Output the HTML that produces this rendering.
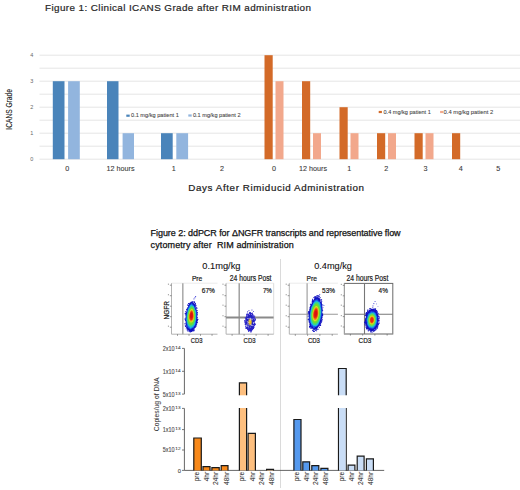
<!DOCTYPE html>
<html><head><meta charset="utf-8"><style>
html,body{margin:0;padding:0;background:#fff;overflow:hidden;}
svg{display:block;font-family:"Liberation Sans", sans-serif;}
</style></head><body>
<svg width="520" height="490" viewBox="0 0 520 490">
<rect width="520" height="490" fill="#fff"/>
<text x="45" y="10.8" font-size="9.9" fill="#262626" text-anchor="start" textLength="266" lengthAdjust="spacing" stroke="#262626" stroke-width="0.2">Figure 1: Clinical ICANS Grade after RIM administration</text>
<line x1="39.5" y1="159.2" x2="520" y2="159.2" stroke="#e5e5e5" stroke-width="1" />
<line x1="39.5" y1="146.2" x2="520" y2="146.2" stroke="#e5e5e5" stroke-width="1" />
<line x1="39.5" y1="133.2" x2="520" y2="133.2" stroke="#e5e5e5" stroke-width="1" />
<line x1="39.5" y1="120.19999999999999" x2="520" y2="120.19999999999999" stroke="#e5e5e5" stroke-width="1" />
<line x1="39.5" y1="107.19999999999999" x2="520" y2="107.19999999999999" stroke="#e5e5e5" stroke-width="1" />
<line x1="39.5" y1="94.19999999999999" x2="520" y2="94.19999999999999" stroke="#e5e5e5" stroke-width="1" />
<line x1="39.5" y1="81.19999999999999" x2="520" y2="81.19999999999999" stroke="#e5e5e5" stroke-width="1" />
<line x1="39.5" y1="68.19999999999999" x2="520" y2="68.19999999999999" stroke="#e5e5e5" stroke-width="1" />
<line x1="39.5" y1="55.19999999999999" x2="520" y2="55.19999999999999" stroke="#e5e5e5" stroke-width="1" />
<text x="31.8" y="161.2" font-size="5.5" fill="#666" text-anchor="middle" >0</text>
<text x="31.8" y="135.2" font-size="5.5" fill="#666" text-anchor="middle" >1</text>
<text x="31.8" y="109.19999999999999" font-size="5.5" fill="#666" text-anchor="middle" >2</text>
<text x="31.8" y="83.19999999999999" font-size="5.5" fill="#666" text-anchor="middle" >3</text>
<text x="31.8" y="57.19999999999999" font-size="5.5" fill="#666" text-anchor="middle" >4</text>
<text x="12.3" y="109.4" font-size="8.3" fill="#222" text-anchor="middle" textLength="40.6" lengthAdjust="spacingAndGlyphs" transform="rotate(-90 12.3 109.4)" stroke="#222" stroke-width="0.12">ICANS Grade</text>
<rect x="52.80" y="81.20" width="11.70" height="78.00" fill="#4a84ba" />
<rect x="68.10" y="81.20" width="11.70" height="78.00" fill="#92b5de" />
<rect x="107.00" y="81.20" width="11.50" height="78.00" fill="#4a84ba" />
<rect x="122.60" y="133.20" width="11.40" height="26.00" fill="#92b5de" />
<rect x="161.00" y="133.20" width="11.70" height="26.00" fill="#4a84ba" />
<rect x="176.30" y="133.20" width="11.80" height="26.00" fill="#92b5de" />
<rect x="264.50" y="55.20" width="8.20" height="104.00" fill="#d36a28" />
<rect x="275.50" y="81.20" width="8.00" height="78.00" fill="#f2a88c" />
<rect x="302.00" y="81.20" width="8.20" height="78.00" fill="#d36a28" />
<rect x="313.00" y="133.20" width="8.00" height="26.00" fill="#f2a88c" />
<rect x="339.50" y="107.20" width="8.20" height="52.00" fill="#d36a28" />
<rect x="350.50" y="133.20" width="8.00" height="26.00" fill="#f2a88c" />
<rect x="377.00" y="133.20" width="8.20" height="26.00" fill="#d36a28" />
<rect x="388.00" y="133.20" width="8.00" height="26.00" fill="#f2a88c" />
<rect x="414.50" y="133.20" width="8.20" height="26.00" fill="#d36a28" />
<rect x="425.50" y="133.20" width="8.00" height="26.00" fill="#f2a88c" />
<rect x="452.00" y="133.20" width="8.20" height="26.00" fill="#d36a28" />
<text x="67.3" y="171.1" font-size="7.2" fill="#3a3a3a" text-anchor="middle" stroke="#3a3a3a" stroke-width="0.1">0</text>
<text x="120.6" y="171.1" font-size="7.2" fill="#3a3a3a" text-anchor="middle" stroke="#3a3a3a" stroke-width="0.1">12 hours</text>
<text x="173.7" y="171.1" font-size="7.2" fill="#3a3a3a" text-anchor="middle" stroke="#3a3a3a" stroke-width="0.1">1</text>
<text x="222.1" y="171.1" font-size="7.2" fill="#3a3a3a" text-anchor="middle" stroke="#3a3a3a" stroke-width="0.1">2</text>
<text x="274" y="171.1" font-size="7.2" fill="#3a3a3a" text-anchor="middle" stroke="#3a3a3a" stroke-width="0.1">0</text>
<text x="313" y="171.1" font-size="7.2" fill="#3a3a3a" text-anchor="middle" stroke="#3a3a3a" stroke-width="0.1">12 hours</text>
<text x="349.2" y="171.1" font-size="7.2" fill="#3a3a3a" text-anchor="middle" stroke="#3a3a3a" stroke-width="0.1">1</text>
<text x="386.3" y="171.1" font-size="7.2" fill="#3a3a3a" text-anchor="middle" stroke="#3a3a3a" stroke-width="0.1">2</text>
<text x="425.4" y="171.1" font-size="7.2" fill="#3a3a3a" text-anchor="middle" stroke="#3a3a3a" stroke-width="0.1">3</text>
<text x="460.8" y="171.1" font-size="7.2" fill="#3a3a3a" text-anchor="middle" stroke="#3a3a3a" stroke-width="0.1">4</text>
<text x="498.2" y="171.1" font-size="7.2" fill="#3a3a3a" text-anchor="middle" stroke="#3a3a3a" stroke-width="0.1">5</text>
<rect x="126.30" y="114.60" width="3.40" height="2.20" fill="#4a84ba" />
<text x="131" y="117.3" font-size="5.7" fill="#444" text-anchor="start" textLength="47.8" lengthAdjust="spacingAndGlyphs" stroke="#444" stroke-width="0.08">0.1 mg/kg patient 1</text>
<rect x="188.30" y="114.40" width="3.40" height="2.20" fill="#92b5de" />
<text x="192.9" y="117.3" font-size="5.7" fill="#444" text-anchor="start" textLength="47.7" lengthAdjust="spacingAndGlyphs" stroke="#444" stroke-width="0.08">0.1 mg/kg patient 2</text>
<rect x="378.70" y="110.90" width="3.20" height="2.20" fill="#d36a28" />
<text x="383.5" y="113.6" font-size="5.7" fill="#444" text-anchor="start" textLength="47.3" lengthAdjust="spacingAndGlyphs" stroke="#444" stroke-width="0.08">0.4 mg/kg patient 1</text>
<rect x="440.10" y="110.90" width="3.00" height="2.20" fill="#f2a88c" />
<text x="443.5" y="113.6" font-size="5.7" fill="#444" text-anchor="start" textLength="49.8" lengthAdjust="spacingAndGlyphs" stroke="#444" stroke-width="0.08">0.4 mg/kg patient 2</text>
<text x="188.3" y="190.8" font-size="9.8" fill="#222" text-anchor="start" textLength="175.7" lengthAdjust="spacing" stroke="#222" stroke-width="0.22">Days After Rimiducid Administration</text>
<text x="150.6" y="235.6" font-size="9" fill="#111" text-anchor="start" textLength="250" lengthAdjust="spacing" stroke="#111" stroke-width="0.25">Figure 2: ddPCR for ΔNGFR transcripts and representative flow</text>
<text x="150.6" y="248.0" font-size="9" fill="#111" text-anchor="start" textLength="143.2" lengthAdjust="spacing" stroke="#111" stroke-width="0.25">cytometry after&#160; RIM administration</text>
<text x="202.3" y="268.8" font-size="9.7" fill="#111" text-anchor="start" textLength="38.2" lengthAdjust="spacingAndGlyphs" stroke="#111" stroke-width="0.1">0.1mg/kg</text>
<text x="314.2" y="268.8" font-size="9.7" fill="#111" text-anchor="start" textLength="37.8" lengthAdjust="spacingAndGlyphs" stroke="#111" stroke-width="0.1">0.4mg/kg</text>
<line x1="280.5" y1="259" x2="280.5" y2="488" stroke="#dadada" stroke-width="1" />
<line x1="171.5" y1="283.2" x2="217.5" y2="283.2" stroke="#e6e6e6" stroke-width="0.8" />
<line x1="171.5" y1="283.2" x2="171.5" y2="334.2" stroke="#aaa" stroke-width="0.9" />
<line x1="171.5" y1="334.2" x2="217.5" y2="334.2" stroke="#aaa" stroke-width="0.9" />
<line x1="169.9" y1="327.2" x2="171.5" y2="327.2" stroke="#666" stroke-width="0.7" />
<rect x="167.9" y="325.6" width="1" height="1.2" fill="#999"/>
<line x1="169.9" y1="316.7" x2="171.5" y2="316.7" stroke="#666" stroke-width="0.7" />
<rect x="167.9" y="315.1" width="1" height="1.2" fill="#999"/>
<line x1="169.9" y1="306.2" x2="171.5" y2="306.2" stroke="#666" stroke-width="0.7" />
<rect x="167.9" y="304.6" width="1" height="1.2" fill="#999"/>
<line x1="169.9" y1="295.7" x2="171.5" y2="295.7" stroke="#666" stroke-width="0.7" />
<rect x="167.9" y="294.1" width="1" height="1.2" fill="#999"/>
<line x1="169.9" y1="285.2" x2="171.5" y2="285.2" stroke="#666" stroke-width="0.7" />
<rect x="167.9" y="283.6" width="1" height="1.2" fill="#999"/>
<line x1="177.5" y1="334.2" x2="177.5" y2="335.8" stroke="#666" stroke-width="0.7" />
<line x1="189.0151515151515" y1="334.2" x2="189.0151515151515" y2="335.8" stroke="#666" stroke-width="0.7" />
<line x1="200.53030303030303" y1="334.2" x2="200.53030303030303" y2="335.8" stroke="#666" stroke-width="0.7" />
<line x1="212.04545454545456" y1="334.2" x2="212.04545454545456" y2="335.8" stroke="#666" stroke-width="0.7" />
<line x1="182.8" y1="283.2" x2="182.8" y2="334.2" stroke="#a8a8a8" stroke-width="1.5" />
<rect x="187.5" y="328.5" width="0.9" height="0.9" fill="#1010c0"/>
<rect x="188.6" y="305.0" width="0.9" height="0.9" fill="#1010c0"/>
<rect x="185.6" y="312.7" width="0.9" height="0.9" fill="#1010c0"/>
<rect x="196.5" y="321.9" width="0.9" height="0.9" fill="#1010c0"/>
<rect x="196.7" y="320.0" width="0.9" height="0.9" fill="#1010c0"/>
<rect x="195.9" y="322.3" width="0.9" height="0.9" fill="#1010c0"/>
<rect x="184.6" y="323.2" width="0.9" height="0.9" fill="#1010c0"/>
<rect x="194.8" y="326.4" width="0.9" height="0.9" fill="#1010c0"/>
<rect x="187.4" y="304.4" width="0.9" height="0.9" fill="#1010c0"/>
<rect x="186.4" y="309.2" width="0.9" height="0.9" fill="#1010c0"/>
<rect x="196.4" y="314.5" width="0.9" height="0.9" fill="#1010c0"/>
<rect x="194.8" y="305.3" width="0.9" height="0.9" fill="#1010c0"/>
<rect x="194.1" y="327.3" width="0.9" height="0.9" fill="#1010c0"/>
<rect x="187.6" y="330.9" width="0.9" height="0.9" fill="#1010c0"/>
<rect x="193.1" y="330.1" width="0.9" height="0.9" fill="#1010c0"/>
<rect x="188.1" y="305.0" width="0.9" height="0.9" fill="#1010c0"/>
<rect x="186.1" y="312.0" width="0.9" height="0.9" fill="#1010c0"/>
<rect x="196.2" y="321.7" width="0.9" height="0.9" fill="#1010c0"/>
<rect x="189.4" y="302.9" width="0.9" height="0.9" fill="#1010c0"/>
<rect x="187.6" y="330.0" width="0.9" height="0.9" fill="#1010c0"/>
<rect x="185.0" y="320.1" width="0.9" height="0.9" fill="#1010c0"/>
<rect x="193.2" y="301.5" width="0.9" height="0.9" fill="#1010c0"/>
<rect x="190.4" y="331.3" width="0.9" height="0.9" fill="#1010c0"/>
<rect x="184.8" y="313.4" width="0.9" height="0.9" fill="#1010c0"/>
<rect x="191.0" y="302.1" width="0.9" height="0.9" fill="#1010c0"/>
<rect x="196.5" y="314.8" width="0.9" height="0.9" fill="#1010c0"/>
<rect x="184.7" y="323.6" width="0.9" height="0.9" fill="#1010c0"/>
<rect x="194.1" y="328.6" width="0.9" height="0.9" fill="#1010c0"/>
<rect x="197.0" y="320.3" width="0.9" height="0.9" fill="#1010c0"/>
<rect x="192.2" y="301.3" width="0.9" height="0.9" fill="#1010c0"/>
<rect x="195.2" y="306.3" width="0.9" height="0.9" fill="#1010c0"/>
<rect x="189.9" y="301.9" width="0.9" height="0.9" fill="#1010c0"/>
<rect x="186.4" y="308.9" width="0.9" height="0.9" fill="#1010c0"/>
<rect x="194.8" y="302.8" width="0.9" height="0.9" fill="#1010c0"/>
<rect x="184.6" y="318.4" width="0.9" height="0.9" fill="#1010c0"/>
<rect x="196.7" y="322.3" width="0.9" height="0.9" fill="#1010c0"/>
<rect x="188.0" y="303.0" width="0.9" height="0.9" fill="#1010c0"/>
<rect x="193.9" y="303.6" width="0.9" height="0.9" fill="#1010c0"/>
<rect x="185.4" y="326.1" width="0.9" height="0.9" fill="#1010c0"/>
<rect x="196.8" y="318.7" width="0.9" height="0.9" fill="#1010c0"/>
<rect x="193.3" y="328.4" width="0.9" height="0.9" fill="#1010c0"/>
<rect x="196.8" y="322.2" width="0.9" height="0.9" fill="#1010c0"/>
<rect x="194.7" y="326.7" width="0.9" height="0.9" fill="#1010c0"/>
<rect x="185.0" y="326.1" width="0.9" height="0.9" fill="#1010c0"/>
<rect x="196.1" y="323.7" width="0.9" height="0.9" fill="#1010c0"/>
<rect x="185.3" y="311.1" width="0.9" height="0.9" fill="#1010c0"/>
<rect x="194.1" y="301.9" width="0.9" height="0.9" fill="#1010c0"/>
<rect x="189.0" y="330.6" width="0.9" height="0.9" fill="#1010c0"/>
<rect x="185.8" y="328.4" width="0.9" height="0.9" fill="#1010c0"/>
<rect x="196.4" y="312.9" width="0.9" height="0.9" fill="#1010c0"/>
<rect x="193.1" y="329.0" width="0.9" height="0.9" fill="#1010c0"/>
<rect x="190.9" y="331.0" width="0.9" height="0.9" fill="#1010c0"/>
<rect x="186.8" y="308.5" width="0.9" height="0.9" fill="#1010c0"/>
<rect x="196.9" y="316.9" width="0.9" height="0.9" fill="#1010c0"/>
<rect x="185.9" y="327.0" width="0.9" height="0.9" fill="#1010c0"/>
<rect x="196.9" y="312.1" width="0.9" height="0.9" fill="#1010c0"/>
<rect x="185.0" y="314.5" width="0.9" height="0.9" fill="#1010c0"/>
<rect x="189.4" y="304.0" width="0.9" height="0.9" fill="#1010c0"/>
<rect x="196.2" y="307.2" width="0.9" height="0.9" fill="#1010c0"/>
<rect x="195.6" y="305.3" width="0.9" height="0.9" fill="#1010c0"/>
<rect x="185.5" y="325.1" width="0.9" height="0.9" fill="#1010c0"/>
<rect x="195.7" y="325.8" width="0.9" height="0.9" fill="#1010c0"/>
<rect x="196.0" y="321.7" width="0.9" height="0.9" fill="#1010c0"/>
<rect x="191.9" y="329.8" width="0.9" height="0.9" fill="#1010c0"/>
<rect x="187.1" y="327.5" width="0.9" height="0.9" fill="#1010c0"/>
<rect x="196.5" y="316.6" width="0.9" height="0.9" fill="#1010c0"/>
<rect x="195.5" y="325.1" width="0.9" height="0.9" fill="#1010c0"/>
<rect x="197.3" y="319.1" width="0.9" height="0.9" fill="#1010c0"/>
<rect x="187.5" y="307.0" width="0.9" height="0.9" fill="#1010c0"/>
<rect x="190.1" y="330.7" width="0.9" height="0.9" fill="#1010c0"/>
<rect x="186.4" y="326.4" width="0.9" height="0.9" fill="#1010c0"/>
<rect x="195.1" y="303.2" width="0.9" height="0.9" fill="#1010c0"/>
<rect x="184.8" y="319.1" width="0.9" height="0.9" fill="#1010c0"/>
<rect x="195.6" y="323.6" width="0.9" height="0.9" fill="#1010c0"/>
<rect x="186.9" y="327.9" width="0.9" height="0.9" fill="#1010c0"/>
<rect x="194.0" y="304.2" width="0.9" height="0.9" fill="#1010c0"/>
<rect x="197.4" y="318.9" width="0.9" height="0.9" fill="#1010c0"/>
<rect x="185.7" y="313.5" width="0.9" height="0.9" fill="#1010c0"/>
<rect x="186.1" y="312.4" width="0.9" height="0.9" fill="#1010c0"/>
<rect x="184.8" y="313.1" width="0.9" height="0.9" fill="#1010c0"/>
<rect x="195.3" y="304.8" width="0.9" height="0.9" fill="#1010c0"/>
<rect x="189.7" y="330.7" width="0.9" height="0.9" fill="#1010c0"/>
<rect x="193.7" y="330.0" width="0.9" height="0.9" fill="#1010c0"/>
<rect x="185.1" y="312.7" width="0.9" height="0.9" fill="#1010c0"/>
<rect x="187.3" y="328.4" width="0.9" height="0.9" fill="#1010c0"/>
<rect x="193.9" y="301.3" width="0.9" height="0.9" fill="#1010c0"/>
<rect x="195.1" y="303.8" width="0.9" height="0.9" fill="#1010c0"/>
<rect x="194.0" y="302.2" width="0.9" height="0.9" fill="#1010c0"/>
<rect x="191.2" y="331.1" width="0.9" height="0.9" fill="#1010c0"/>
<rect x="186.7" y="326.7" width="0.9" height="0.9" fill="#1010c0"/>
<rect x="196.6" y="319.0" width="0.9" height="0.9" fill="#1010c0"/>
<rect x="189.7" y="331.6" width="0.9" height="0.9" fill="#1010c0"/>
<rect x="196.7" y="312.6" width="0.9" height="0.9" fill="#1010c0"/>
<rect x="197.1" y="310.3" width="0.9" height="0.9" fill="#1010c0"/>
<rect x="196.6" y="312.5" width="0.9" height="0.9" fill="#1010c0"/>
<rect x="191.4" y="330.1" width="0.9" height="0.9" fill="#1010c0"/>
<rect x="192.3" y="329.6" width="0.9" height="0.9" fill="#1010c0"/>
<rect x="187.3" y="304.8" width="0.9" height="0.9" fill="#1010c0"/>
<rect x="194.5" y="303.9" width="0.9" height="0.9" fill="#1010c0"/>
<rect x="188.3" y="303.2" width="0.9" height="0.9" fill="#1010c0"/>
<rect x="196.2" y="324.3" width="0.9" height="0.9" fill="#1010c0"/>
<rect x="196.4" y="308.1" width="0.9" height="0.9" fill="#1010c0"/>
<rect x="191.7" y="301.4" width="0.9" height="0.9" fill="#1010c0"/>
<rect x="193.3" y="330.6" width="0.9" height="0.9" fill="#1010c0"/>
<rect x="186.8" y="329.7" width="0.9" height="0.9" fill="#1010c0"/>
<rect x="196.8" y="314.0" width="0.9" height="0.9" fill="#1010c0"/>
<rect x="184.8" y="325.3" width="0.9" height="0.9" fill="#1010c0"/>
<rect x="190.9" y="302.5" width="0.9" height="0.9" fill="#1010c0"/>
<rect x="194.7" y="326.4" width="0.9" height="0.9" fill="#1010c0"/>
<rect x="196.3" y="307.6" width="0.9" height="0.9" fill="#1010c0"/>
<rect x="193.5" y="298.5" width="0.9" height="0.9" fill="#1a1ad0"/>
<rect x="194.5" y="297.3" width="0.9" height="0.9" fill="#1a1ad0"/>
<rect x="195.2" y="296.0" width="0.9" height="0.9" fill="#1a1ad0"/>
<path d="M197.04 317.00 L197.44 319.39 L197.30 321.79 L196.69 323.74 L195.97 325.38 L195.40 327.31 L194.44 328.16 L193.55 329.08 L192.78 331.46 L191.68 331.41 L190.63 331.33 L189.52 331.79 L188.67 330.35 L187.60 330.11 L186.81 328.75 L186.52 326.42 L186.01 324.76 L185.66 322.87 L185.54 320.77 L185.29 318.69 L185.68 316.40 L185.86 314.15 L186.47 312.12 L186.56 309.48 L187.49 308.05 L188.14 306.24 L188.87 304.62 L189.61 302.95 L190.52 302.88 L191.34 301.53 L192.16 302.12 L192.97 302.29 L193.75 302.88 L194.29 304.58 L195.12 305.15 L195.59 306.97 L195.99 308.86 L196.90 310.11 L196.81 312.64 L197.21 314.72 Z" fill="#1010c0"/>
<path d="M196.66 316.78 L196.49 318.77 L196.15 320.60 L195.92 322.53 L195.48 324.24 L194.98 325.99 L194.04 326.45 L193.40 328.02 L192.50 328.29 L191.63 328.74 L190.71 329.60 L189.85 329.00 L188.99 328.56 L188.13 328.02 L187.37 327.09 L187.03 325.21 L186.50 323.83 L186.28 322.01 L186.13 320.17 L186.02 318.26 L186.30 316.24 L186.52 314.25 L186.92 312.35 L187.17 310.20 L187.85 308.66 L188.42 306.95 L189.10 305.55 L189.96 305.42 L190.62 304.28 L191.35 303.27 L192.09 303.30 L192.70 304.56 L193.34 305.06 L194.05 305.39 L194.49 306.90 L195.07 307.98 L195.43 309.62 L196.11 310.86 L196.47 312.71 L196.71 314.70 Z" fill="#1a5ae8"/>
<path d="M195.86 316.62 L196.11 318.49 L195.89 320.26 L195.32 321.61 L195.25 323.69 L194.72 325.18 L193.83 325.54 L193.30 327.33 L192.42 327.29 L191.62 327.79 L190.76 328.58 L189.93 328.17 L189.31 326.81 L188.55 326.44 L187.90 325.56 L187.48 324.19 L187.17 322.70 L186.85 321.28 L186.50 319.79 L186.90 317.85 L186.72 316.14 L187.01 314.36 L187.56 312.82 L187.83 311.06 L188.21 309.33 L188.81 308.07 L189.52 307.43 L189.97 305.42 L190.68 304.98 L191.35 304.33 L191.98 305.41 L192.60 305.36 L193.15 306.10 L193.91 305.88 L194.28 307.45 L194.69 308.75 L195.22 309.86 L195.80 311.11 L196.02 312.92 L195.87 314.86 Z" fill="#18b8e8"/>
<path d="M195.50 316.48 L195.63 318.15 L195.38 319.69 L195.13 321.23 L194.62 322.38 L194.15 323.55 L193.68 324.88 L193.01 325.56 L192.30 325.93 L191.60 326.80 L190.85 326.70 L190.11 326.64 L189.49 325.79 L188.76 325.57 L188.35 324.28 L187.73 323.57 L187.47 322.14 L187.26 320.72 L187.09 319.26 L187.00 317.70 L187.28 316.05 L187.52 314.47 L187.73 312.86 L188.17 311.46 L188.64 310.16 L189.12 308.95 L189.67 308.00 L190.21 307.12 L190.78 306.47 L191.36 306.13 L191.95 305.75 L192.50 306.20 L193.06 306.48 L193.54 307.31 L194.03 308.08 L194.40 309.29 L194.81 310.43 L195.06 311.88 L195.45 313.22 L195.55 314.85 Z" fill="#40d880"/>
<path d="M194.93 316.30 L194.94 317.69 L194.89 319.13 L194.49 320.23 L194.29 321.61 L193.82 322.52 L193.34 323.43 L192.82 324.30 L192.19 324.58 L191.57 324.94 L190.93 325.11 L190.28 325.12 L189.74 324.43 L189.13 324.10 L188.67 323.28 L188.29 322.31 L188.03 321.15 L187.84 319.94 L187.81 318.61 L187.79 317.29 L187.90 315.93 L187.94 314.52 L188.30 313.24 L188.64 312.00 L189.03 310.88 L189.36 309.57 L189.84 308.66 L190.35 308.03 L190.87 307.72 L191.37 307.44 L191.86 307.33 L192.35 307.38 L192.80 307.88 L193.27 308.29 L193.65 309.12 L194.13 309.78 L194.46 310.88 L194.65 312.23 L194.78 313.58 L195.06 314.87 Z" fill="#70dc30"/>
<path d="M194.14 316.05 L194.11 317.11 L193.94 318.10 L193.82 319.13 L193.58 320.05 L193.27 320.86 L192.87 321.44 L192.47 322.09 L191.99 322.28 L191.53 322.60 L191.05 322.59 L190.57 322.61 L190.14 322.19 L189.74 321.76 L189.35 321.29 L189.06 320.56 L188.78 319.83 L188.63 318.88 L188.51 317.91 L188.53 316.84 L188.59 315.76 L188.71 314.66 L188.99 313.67 L189.25 312.71 L189.47 311.65 L189.89 311.07 L190.21 310.21 L190.59 309.69 L190.99 309.53 L191.37 308.98 L191.77 308.89 L192.14 309.11 L192.52 309.34 L192.87 309.74 L193.12 310.56 L193.45 311.15 L193.69 311.99 L193.95 312.86 L194.10 313.88 L194.19 314.96 Z" fill="#d8e020"/>
<path d="M193.71 315.91 L193.72 316.82 L193.60 317.68 L193.45 318.51 L193.19 319.18 L192.91 319.78 L192.61 320.36 L192.28 320.87 L191.90 321.11 L191.51 321.54 L191.10 321.49 L190.70 321.42 L190.32 321.19 L189.96 320.85 L189.68 320.30 L189.49 319.60 L189.20 319.08 L189.07 318.29 L189.04 317.42 L189.04 316.55 L189.08 315.66 L189.28 314.80 L189.36 313.89 L189.63 313.14 L189.89 312.44 L190.14 311.74 L190.41 311.06 L190.75 310.76 L191.05 310.27 L191.38 309.99 L191.70 310.10 L192.01 310.22 L192.31 310.42 L192.61 310.71 L192.88 311.18 L193.11 311.81 L193.32 312.51 L193.42 313.37 L193.55 314.17 L193.64 315.02 Z" fill="#f08a10"/>
<path d="M193.25 315.76 L193.18 316.46 L193.14 317.16 L192.96 317.74 L192.80 318.33 L192.62 318.89 L192.40 319.42 L192.11 319.79 L191.81 320.04 L191.48 320.09 L191.16 320.19 L190.85 320.10 L190.55 319.92 L190.30 319.55 L190.00 319.34 L189.86 318.73 L189.63 318.31 L189.53 317.68 L189.58 316.93 L189.53 316.27 L189.54 315.57 L189.62 314.84 L189.81 314.19 L189.99 313.56 L190.19 312.98 L190.36 312.32 L190.64 312.02 L190.87 311.58 L191.13 311.43 L191.38 311.18 L191.64 311.02 L191.88 311.31 L192.14 311.31 L192.35 311.67 L192.59 311.98 L192.77 312.49 L192.89 313.12 L193.09 313.65 L193.14 314.36 L193.16 315.07 Z" fill="#e82a10"/>
<path d="M192.54 315.56 L192.56 316.02 L192.51 316.46 L192.43 316.87 L192.31 317.23 L192.19 317.59 L192.03 317.87 L191.87 318.18 L191.65 318.21 L191.46 318.43 L191.24 318.48 L191.05 318.30 L190.83 318.32 L190.66 318.10 L190.50 317.88 L190.40 317.49 L190.30 317.15 L190.23 316.76 L190.15 316.37 L190.18 315.90 L190.23 315.44 L190.29 314.99 L190.38 314.56 L190.50 314.16 L190.62 313.78 L190.73 313.36 L190.90 313.14 L191.05 312.81 L191.23 312.75 L191.39 312.65 L191.55 312.58 L191.71 312.68 L191.86 312.76 L192.03 312.86 L192.17 313.12 L192.29 313.44 L192.38 313.82 L192.49 314.20 L192.56 314.63 L192.57 315.10 Z" fill="#d81010"/>
<text x="191.9" y="281.4" font-size="8" fill="#222" text-anchor="start" textLength="10.4" lengthAdjust="spacingAndGlyphs" stroke="#222" stroke-width="0.22">Pre</text>
<text x="201.8" y="293.3" font-size="7.7" fill="#222" text-anchor="start" textLength="13.1" lengthAdjust="spacingAndGlyphs" stroke="#222" stroke-width="0.22">67%</text>
<text x="190.8" y="343.0" font-size="8" fill="#222" text-anchor="start" textLength="11.7" lengthAdjust="spacingAndGlyphs" stroke="#222" stroke-width="0.22">CD3</text>
<text x="169.4" y="301.1" font-size="8" fill="#222" text-anchor="end" textLength="18.3" lengthAdjust="spacingAndGlyphs" transform="rotate(-90 169.4 301.1)" stroke="#222" stroke-width="0.22">NGFR</text>
<line x1="226.1" y1="283.2" x2="273.7" y2="283.2" stroke="#e6e6e6" stroke-width="0.8" />
<line x1="273.7" y1="283.2" x2="273.7" y2="334.2" stroke="#d8d8d8" stroke-width="0.9" />
<line x1="226.1" y1="283.2" x2="226.1" y2="334.2" stroke="#aaa" stroke-width="0.9" />
<line x1="226.1" y1="334.2" x2="273.7" y2="334.2" stroke="#aaa" stroke-width="0.9" />
<line x1="224.5" y1="327.2" x2="226.1" y2="327.2" stroke="#666" stroke-width="0.7" />
<rect x="222.5" y="325.6" width="1" height="1.2" fill="#999"/>
<line x1="224.5" y1="316.7" x2="226.1" y2="316.7" stroke="#666" stroke-width="0.7" />
<rect x="222.5" y="315.1" width="1" height="1.2" fill="#999"/>
<line x1="224.5" y1="306.2" x2="226.1" y2="306.2" stroke="#666" stroke-width="0.7" />
<rect x="222.5" y="304.6" width="1" height="1.2" fill="#999"/>
<line x1="224.5" y1="295.7" x2="226.1" y2="295.7" stroke="#666" stroke-width="0.7" />
<rect x="222.5" y="294.1" width="1" height="1.2" fill="#999"/>
<line x1="224.5" y1="285.2" x2="226.1" y2="285.2" stroke="#666" stroke-width="0.7" />
<rect x="222.5" y="283.6" width="1" height="1.2" fill="#999"/>
<line x1="232.1" y1="334.2" x2="232.1" y2="335.8" stroke="#666" stroke-width="0.7" />
<line x1="244.1" y1="334.2" x2="244.1" y2="335.8" stroke="#666" stroke-width="0.7" />
<line x1="256.09999999999997" y1="334.2" x2="256.09999999999997" y2="335.8" stroke="#666" stroke-width="0.7" />
<line x1="268.1" y1="334.2" x2="268.1" y2="335.8" stroke="#666" stroke-width="0.7" />
<line x1="239.2" y1="283.2" x2="239.2" y2="334.2" stroke="#999" stroke-width="1.4" />
<line x1="226.1" y1="317.6" x2="273.6" y2="317.6" stroke="#8a8a8a" stroke-width="2" />
<rect x="248.8" y="313.2" width="0.9" height="0.9" fill="#2a22c8"/>
<rect x="249.1" y="312.3" width="0.9" height="0.9" fill="#2a22c8"/>
<rect x="249.7" y="311.9" width="0.9" height="0.9" fill="#2a22c8"/>
<rect x="248.6" y="329.9" width="0.9" height="0.9" fill="#2a22c8"/>
<rect x="253.9" y="317.7" width="0.9" height="0.9" fill="#2a22c8"/>
<rect x="244.8" y="323.1" width="0.9" height="0.9" fill="#2a22c8"/>
<rect x="248.1" y="330.9" width="0.9" height="0.9" fill="#2a22c8"/>
<rect x="254.5" y="320.2" width="0.9" height="0.9" fill="#2a22c8"/>
<rect x="246.9" y="314.1" width="0.9" height="0.9" fill="#2a22c8"/>
<rect x="245.0" y="318.3" width="0.9" height="0.9" fill="#2a22c8"/>
<rect x="252.0" y="329.2" width="0.9" height="0.9" fill="#2a22c8"/>
<rect x="251.1" y="331.3" width="0.9" height="0.9" fill="#2a22c8"/>
<rect x="244.8" y="321.7" width="0.9" height="0.9" fill="#2a22c8"/>
<rect x="254.3" y="315.8" width="0.9" height="0.9" fill="#2a22c8"/>
<rect x="245.1" y="324.2" width="0.9" height="0.9" fill="#2a22c8"/>
<rect x="251.3" y="329.6" width="0.9" height="0.9" fill="#2a22c8"/>
<rect x="247.1" y="328.8" width="0.9" height="0.9" fill="#2a22c8"/>
<rect x="250.0" y="330.5" width="0.9" height="0.9" fill="#2a22c8"/>
<rect x="244.7" y="317.3" width="0.9" height="0.9" fill="#2a22c8"/>
<rect x="249.6" y="312.3" width="0.9" height="0.9" fill="#2a22c8"/>
<rect x="245.3" y="326.4" width="0.9" height="0.9" fill="#2a22c8"/>
<rect x="246.1" y="327.9" width="0.9" height="0.9" fill="#2a22c8"/>
<rect x="254.2" y="325.0" width="0.9" height="0.9" fill="#2a22c8"/>
<rect x="254.3" y="319.8" width="0.9" height="0.9" fill="#2a22c8"/>
<rect x="244.4" y="321.3" width="0.9" height="0.9" fill="#2a22c8"/>
<rect x="252.8" y="314.8" width="0.9" height="0.9" fill="#2a22c8"/>
<rect x="249.0" y="330.4" width="0.9" height="0.9" fill="#2a22c8"/>
<rect x="245.6" y="327.0" width="0.9" height="0.9" fill="#2a22c8"/>
<rect x="254.9" y="318.7" width="0.9" height="0.9" fill="#2a22c8"/>
<rect x="252.9" y="315.5" width="0.9" height="0.9" fill="#2a22c8"/>
<rect x="254.9" y="323.5" width="0.9" height="0.9" fill="#2a22c8"/>
<rect x="253.7" y="315.9" width="0.9" height="0.9" fill="#2a22c8"/>
<rect x="245.7" y="317.1" width="0.9" height="0.9" fill="#2a22c8"/>
<rect x="245.4" y="328.0" width="0.9" height="0.9" fill="#2a22c8"/>
<rect x="252.1" y="312.6" width="0.9" height="0.9" fill="#2a22c8"/>
<rect x="254.4" y="320.0" width="0.9" height="0.9" fill="#2a22c8"/>
<rect x="253.3" y="327.1" width="0.9" height="0.9" fill="#2a22c8"/>
<rect x="244.4" y="320.2" width="0.9" height="0.9" fill="#2a22c8"/>
<rect x="254.6" y="318.0" width="0.9" height="0.9" fill="#2a22c8"/>
<rect x="246.4" y="313.7" width="0.9" height="0.9" fill="#2a22c8"/>
<rect x="244.7" y="324.1" width="0.9" height="0.9" fill="#2a22c8"/>
<rect x="254.9" y="324.0" width="0.9" height="0.9" fill="#2a22c8"/>
<rect x="250.3" y="331.6" width="0.9" height="0.9" fill="#2a22c8"/>
<rect x="246.7" y="314.4" width="0.9" height="0.9" fill="#2a22c8"/>
<rect x="253.0" y="328.0" width="0.9" height="0.9" fill="#2a22c8"/>
<rect x="246.2" y="314.2" width="0.9" height="0.9" fill="#2a22c8"/>
<rect x="253.2" y="327.1" width="0.9" height="0.9" fill="#2a22c8"/>
<rect x="244.5" y="320.1" width="0.9" height="0.9" fill="#2a22c8"/>
<rect x="246.0" y="327.3" width="0.9" height="0.9" fill="#2a22c8"/>
<rect x="245.9" y="316.5" width="0.9" height="0.9" fill="#2a22c8"/>
<rect x="248.0" y="330.4" width="0.9" height="0.9" fill="#2a22c8"/>
<rect x="254.7" y="319.1" width="0.9" height="0.9" fill="#2a22c8"/>
<rect x="253.4" y="315.3" width="0.9" height="0.9" fill="#2a22c8"/>
<rect x="250.1" y="330.4" width="0.9" height="0.9" fill="#2a22c8"/>
<rect x="254.8" y="319.2" width="0.9" height="0.9" fill="#2a22c8"/>
<rect x="248.0" y="329.5" width="0.9" height="0.9" fill="#2a22c8"/>
<rect x="244.4" y="321.7" width="0.9" height="0.9" fill="#2a22c8"/>
<rect x="245.4" y="325.9" width="0.9" height="0.9" fill="#2a22c8"/>
<rect x="246.9" y="312.7" width="0.9" height="0.9" fill="#2a22c8"/>
<rect x="250.3" y="330.0" width="0.9" height="0.9" fill="#2a22c8"/>
<rect x="248.5" y="310.2" width="0.9" height="0.9" fill="#2a22c8"/>
<rect x="251.5" y="309.6" width="0.9" height="0.9" fill="#2a22c8"/>
<rect x="247.2" y="311.3" width="0.9" height="0.9" fill="#2a22c8"/>
<rect x="253.0" y="311.0" width="0.9" height="0.9" fill="#5050d0"/>
<path d="M255.00 322.00 L254.99 323.43 L254.96 324.91 L254.39 326.03 L254.29 327.60 L253.74 328.69 L253.04 329.45 L252.29 329.91 L251.73 331.24 L250.86 330.88 L250.10 331.55 L249.34 330.79 L248.61 330.46 L247.76 330.45 L247.23 329.26 L246.37 328.86 L246.06 327.40 L245.81 326.02 L245.50 324.75 L245.21 323.42 L245.00 322.00 L244.90 320.48 L245.55 319.28 L245.70 317.88 L246.19 316.78 L246.36 315.12 L247.29 314.88 L247.95 314.24 L248.64 313.71 L249.33 313.03 L250.10 312.36 L250.92 312.50 L251.69 313.01 L252.51 313.31 L253.19 314.17 L253.56 315.63 L253.99 316.80 L254.79 317.60 L255.00 319.07 L254.76 320.64 Z" fill="#2a22c8"/>
<path d="M253.92 322.00 L253.75 323.06 L253.61 324.10 L253.37 325.07 L253.01 325.89 L252.59 326.59 L252.25 327.43 L251.77 328.04 L251.32 328.92 L250.66 328.51 L250.10 329.28 L249.53 328.58 L248.96 328.45 L248.33 328.39 L247.81 327.80 L247.47 326.84 L247.23 325.84 L246.77 325.12 L246.59 324.10 L246.21 323.13 L246.49 322.00 L246.46 320.94 L246.36 319.77 L246.95 319.04 L247.10 317.99 L247.35 316.94 L247.83 316.24 L248.49 316.19 L249.01 315.80 L249.54 315.54 L250.10 314.75 L250.67 315.38 L251.29 315.24 L251.88 315.56 L252.26 316.53 L252.68 317.25 L253.30 317.72 L253.49 318.82 L253.56 319.93 L253.90 320.89 Z" fill="#2020c0"/>
<path d="M252.30 322.00 L252.26 322.63 L252.11 323.20 L252.17 323.94 L252.01 324.56 L251.72 324.97 L251.49 325.53 L251.06 325.48 L250.77 325.81 L250.45 326.08 L250.10 326.37 L249.73 326.31 L249.41 325.88 L249.11 325.58 L248.79 325.32 L248.51 324.93 L248.19 324.56 L248.17 323.81 L247.88 323.33 L247.81 322.67 L247.76 322.00 L247.80 321.33 L247.93 320.70 L248.14 320.16 L248.32 319.62 L248.54 319.12 L248.73 318.54 L249.13 318.50 L249.43 318.21 L249.74 317.79 L250.10 317.99 L250.43 318.12 L250.76 318.28 L251.13 318.29 L251.39 318.72 L251.78 318.90 L252.00 319.45 L252.22 320.01 L252.18 320.76 L252.21 321.38 Z" fill="#6050a0"/>
<path d="M251.66 322.00 L251.68 322.46 L251.64 322.92 L251.52 323.33 L251.37 323.70 L251.23 324.07 L251.05 324.40 L250.83 324.65 L250.60 324.84 L250.36 324.97 L250.10 324.97 L249.86 324.84 L249.60 324.86 L249.38 324.59 L249.16 324.39 L248.98 324.07 L248.79 323.76 L248.70 323.31 L248.60 322.90 L248.54 322.45 L248.53 322.00 L248.48 321.53 L248.57 321.09 L248.69 320.68 L248.81 320.28 L248.94 319.86 L249.16 319.62 L249.39 319.42 L249.60 319.15 L249.85 319.07 L250.10 318.97 L250.34 319.16 L250.59 319.20 L250.84 319.33 L251.06 319.57 L251.26 319.87 L251.36 320.32 L251.51 320.68 L251.59 321.11 L251.65 321.55 Z" fill="#d0b030"/>
<path d="M251.13 322.00 L251.09 322.29 L251.08 322.58 L250.98 322.83 L250.93 323.11 L250.80 323.30 L250.68 323.47 L250.56 323.67 L250.42 323.80 L250.25 323.77 L250.10 323.85 L249.94 323.83 L249.80 323.72 L249.65 323.63 L249.52 323.46 L249.41 323.28 L249.30 323.07 L249.20 322.84 L249.14 322.57 L249.13 322.28 L249.13 322.00 L249.12 321.72 L249.14 321.43 L249.23 321.18 L249.30 320.93 L249.41 320.72 L249.50 320.49 L249.64 320.36 L249.80 320.30 L249.95 320.23 L250.10 320.17 L250.26 320.18 L250.41 320.24 L250.54 320.40 L250.68 320.54 L250.82 320.68 L250.90 320.92 L250.98 321.18 L251.04 321.44 L251.11 321.70 Z" fill="#f0c820"/>
<rect x="248.4" y="327.4" width="0.8" height="0.8" fill="#fff" fill-opacity="0.7"/>
<rect x="247.9" y="325.8" width="0.8" height="0.8" fill="#fff" fill-opacity="0.7"/>
<rect x="252.7" y="315.4" width="0.8" height="0.8" fill="#fff" fill-opacity="0.7"/>
<rect x="248.4" y="324.4" width="0.8" height="0.8" fill="#fff" fill-opacity="0.7"/>
<rect x="249.4" y="317.9" width="0.8" height="0.8" fill="#fff" fill-opacity="0.7"/>
<rect x="254.0" y="321.9" width="0.8" height="0.8" fill="#fff" fill-opacity="0.7"/>
<rect x="246.1" y="325.1" width="0.8" height="0.8" fill="#fff" fill-opacity="0.7"/>
<rect x="246.2" y="325.9" width="0.8" height="0.8" fill="#fff" fill-opacity="0.7"/>
<rect x="247.9" y="322.4" width="0.8" height="0.8" fill="#fff" fill-opacity="0.7"/>
<rect x="253.0" y="322.2" width="0.8" height="0.8" fill="#fff" fill-opacity="0.7"/>
<rect x="247.0" y="315.5" width="0.8" height="0.8" fill="#fff" fill-opacity="0.7"/>
<rect x="252.7" y="325.1" width="0.8" height="0.8" fill="#fff" fill-opacity="0.7"/>
<rect x="247.5" y="325.9" width="0.8" height="0.8" fill="#fff" fill-opacity="0.7"/>
<rect x="251.2" y="325.1" width="0.8" height="0.8" fill="#fff" fill-opacity="0.7"/>
<rect x="245.4" y="320.5" width="0.8" height="0.8" fill="#fff" fill-opacity="0.7"/>
<rect x="252.1" y="325.3" width="0.8" height="0.8" fill="#fff" fill-opacity="0.7"/>
<rect x="251.2" y="313.9" width="0.8" height="0.8" fill="#fff" fill-opacity="0.7"/>
<rect x="250.2" y="324.4" width="0.8" height="0.8" fill="#fff" fill-opacity="0.7"/>
<rect x="253.9" y="318.7" width="0.8" height="0.8" fill="#fff" fill-opacity="0.7"/>
<rect x="248.7" y="321.8" width="0.8" height="0.8" fill="#fff" fill-opacity="0.7"/>
<rect x="252.2" y="319.3" width="0.8" height="0.8" fill="#fff" fill-opacity="0.7"/>
<rect x="252.6" y="317.9" width="0.8" height="0.8" fill="#fff" fill-opacity="0.7"/>
<rect x="250.5" y="318.6" width="0.8" height="0.8" fill="#fff" fill-opacity="0.7"/>
<rect x="250.2" y="317.8" width="0.8" height="0.8" fill="#fff" fill-opacity="0.7"/>
<rect x="246.3" y="325.9" width="0.8" height="0.8" fill="#fff" fill-opacity="0.7"/>
<rect x="250.6" y="318.5" width="0.8" height="0.8" fill="#fff" fill-opacity="0.7"/>
<rect x="250.3" y="326.7" width="0.8" height="0.8" fill="#fff" fill-opacity="0.7"/>
<rect x="246.9" y="321.0" width="0.8" height="0.8" fill="#fff" fill-opacity="0.7"/>
<rect x="251.3" y="324.5" width="0.8" height="0.8" fill="#fff" fill-opacity="0.7"/>
<rect x="249.0" y="313.9" width="0.8" height="0.8" fill="#fff" fill-opacity="0.7"/>
<rect x="253.0" y="323.2" width="0.8" height="0.8" fill="#fff" fill-opacity="0.7"/>
<rect x="249.7" y="320.0" width="0.8" height="0.8" fill="#fff" fill-opacity="0.7"/>
<rect x="250.5" y="319.2" width="0.8" height="0.8" fill="#fff" fill-opacity="0.7"/>
<rect x="247.0" y="318.0" width="0.8" height="0.8" fill="#fff" fill-opacity="0.7"/>
<rect x="248.0" y="318.3" width="0.8" height="0.8" fill="#fff" fill-opacity="0.7"/>
<rect x="246.7" y="324.6" width="0.8" height="0.8" fill="#fff" fill-opacity="0.7"/>
<rect x="246.4" y="324.6" width="0.8" height="0.8" fill="#fff" fill-opacity="0.7"/>
<rect x="246.9" y="323.4" width="0.8" height="0.8" fill="#fff" fill-opacity="0.7"/>
<rect x="253.2" y="322.6" width="0.8" height="0.8" fill="#fff" fill-opacity="0.7"/>
<rect x="247.5" y="321.9" width="0.8" height="0.8" fill="#fff" fill-opacity="0.7"/>
<text x="229.8" y="281.0" font-size="8.5" fill="#222" text-anchor="start" textLength="41.6" lengthAdjust="spacingAndGlyphs" stroke="#222" stroke-width="0.22">24 hours Post</text>
<text x="262.9" y="293.3" font-size="7.7" fill="#222" text-anchor="start" textLength="9.0" lengthAdjust="spacingAndGlyphs" stroke="#222" stroke-width="0.22">7%</text>
<text x="243.6" y="343.0" font-size="8" fill="#222" text-anchor="start" textLength="12.0" lengthAdjust="spacingAndGlyphs" stroke="#222" stroke-width="0.22">CD3</text>
<line x1="289.3" y1="283.2" x2="337.9" y2="283.2" stroke="#e6e6e6" stroke-width="0.8" />
<line x1="289.3" y1="283.2" x2="289.3" y2="334.2" stroke="#aaa" stroke-width="0.9" />
<line x1="289.3" y1="334.2" x2="337.9" y2="334.2" stroke="#aaa" stroke-width="0.9" />
<line x1="287.7" y1="327.2" x2="289.3" y2="327.2" stroke="#666" stroke-width="0.7" />
<rect x="285.7" y="325.6" width="1" height="1.2" fill="#999"/>
<line x1="287.7" y1="316.7" x2="289.3" y2="316.7" stroke="#666" stroke-width="0.7" />
<rect x="285.7" y="315.1" width="1" height="1.2" fill="#999"/>
<line x1="287.7" y1="306.2" x2="289.3" y2="306.2" stroke="#666" stroke-width="0.7" />
<rect x="285.7" y="304.6" width="1" height="1.2" fill="#999"/>
<line x1="287.7" y1="295.7" x2="289.3" y2="295.7" stroke="#666" stroke-width="0.7" />
<rect x="285.7" y="294.1" width="1" height="1.2" fill="#999"/>
<line x1="287.7" y1="285.2" x2="289.3" y2="285.2" stroke="#666" stroke-width="0.7" />
<rect x="285.7" y="283.6" width="1" height="1.2" fill="#999"/>
<line x1="295.3" y1="334.2" x2="295.3" y2="335.8" stroke="#666" stroke-width="0.7" />
<line x1="307.6030303030303" y1="334.2" x2="307.6030303030303" y2="335.8" stroke="#666" stroke-width="0.7" />
<line x1="319.9060606060606" y1="334.2" x2="319.9060606060606" y2="335.8" stroke="#666" stroke-width="0.7" />
<line x1="332.2090909090909" y1="334.2" x2="332.2090909090909" y2="335.8" stroke="#666" stroke-width="0.7" />
<line x1="307.1" y1="283.2" x2="307.1" y2="334.2" stroke="#999" stroke-width="1.1" />
<line x1="289.3" y1="314.3" x2="337.9" y2="314.3" stroke="#999" stroke-width="1.1" />
<rect x="317.7" y="295.8" width="0.9" height="0.9" fill="#1010c0"/>
<rect x="308.6" y="316.5" width="0.9" height="0.9" fill="#1010c0"/>
<rect x="308.7" y="315.1" width="0.9" height="0.9" fill="#1010c0"/>
<rect x="318.8" y="325.4" width="0.9" height="0.9" fill="#1010c0"/>
<rect x="320.1" y="322.7" width="0.9" height="0.9" fill="#1010c0"/>
<rect x="309.2" y="311.5" width="0.9" height="0.9" fill="#1010c0"/>
<rect x="312.5" y="301.3" width="0.9" height="0.9" fill="#1010c0"/>
<rect x="316.4" y="295.7" width="0.9" height="0.9" fill="#1010c0"/>
<rect x="309.2" y="311.4" width="0.9" height="0.9" fill="#1010c0"/>
<rect x="308.7" y="312.1" width="0.9" height="0.9" fill="#1010c0"/>
<rect x="321.7" y="309.1" width="0.9" height="0.9" fill="#1010c0"/>
<rect x="321.2" y="299.4" width="0.9" height="0.9" fill="#1010c0"/>
<rect x="316.3" y="295.6" width="0.9" height="0.9" fill="#1010c0"/>
<rect x="316.2" y="330.4" width="0.9" height="0.9" fill="#1010c0"/>
<rect x="307.7" y="313.3" width="0.9" height="0.9" fill="#1010c0"/>
<rect x="321.4" y="305.9" width="0.9" height="0.9" fill="#1010c0"/>
<rect x="318.8" y="295.9" width="0.9" height="0.9" fill="#1010c0"/>
<rect x="320.7" y="320.2" width="0.9" height="0.9" fill="#1010c0"/>
<rect x="317.1" y="297.8" width="0.9" height="0.9" fill="#1010c0"/>
<rect x="321.3" y="304.1" width="0.9" height="0.9" fill="#1010c0"/>
<rect x="319.1" y="299.3" width="0.9" height="0.9" fill="#1010c0"/>
<rect x="307.9" y="312.1" width="0.9" height="0.9" fill="#1010c0"/>
<rect x="315.4" y="328.6" width="0.9" height="0.9" fill="#1010c0"/>
<rect x="308.8" y="311.9" width="0.9" height="0.9" fill="#1010c0"/>
<rect x="321.2" y="317.4" width="0.9" height="0.9" fill="#1010c0"/>
<rect x="317.7" y="328.8" width="0.9" height="0.9" fill="#1010c0"/>
<rect x="314.0" y="296.7" width="0.9" height="0.9" fill="#1010c0"/>
<rect x="317.3" y="328.8" width="0.9" height="0.9" fill="#1010c0"/>
<rect x="319.4" y="324.7" width="0.9" height="0.9" fill="#1010c0"/>
<rect x="312.4" y="300.6" width="0.9" height="0.9" fill="#1010c0"/>
<rect x="321.1" y="301.7" width="0.9" height="0.9" fill="#1010c0"/>
<rect x="309.9" y="303.9" width="0.9" height="0.9" fill="#1010c0"/>
<rect x="320.2" y="324.9" width="0.9" height="0.9" fill="#1010c0"/>
<rect x="312.1" y="300.9" width="0.9" height="0.9" fill="#1010c0"/>
<rect x="318.7" y="298.3" width="0.9" height="0.9" fill="#1010c0"/>
<rect x="322.2" y="312.9" width="0.9" height="0.9" fill="#1010c0"/>
<rect x="309.1" y="326.0" width="0.9" height="0.9" fill="#1010c0"/>
<rect x="308.6" y="318.0" width="0.9" height="0.9" fill="#1010c0"/>
<rect x="316.6" y="298.1" width="0.9" height="0.9" fill="#1010c0"/>
<rect x="319.4" y="299.2" width="0.9" height="0.9" fill="#1010c0"/>
<rect x="312.1" y="298.8" width="0.9" height="0.9" fill="#1010c0"/>
<rect x="310.3" y="303.8" width="0.9" height="0.9" fill="#1010c0"/>
<rect x="311.3" y="326.7" width="0.9" height="0.9" fill="#1010c0"/>
<rect x="321.2" y="317.1" width="0.9" height="0.9" fill="#1010c0"/>
<rect x="311.6" y="301.8" width="0.9" height="0.9" fill="#1010c0"/>
<rect x="308.1" y="311.0" width="0.9" height="0.9" fill="#1010c0"/>
<rect x="318.5" y="325.2" width="0.9" height="0.9" fill="#1010c0"/>
<rect x="313.2" y="300.5" width="0.9" height="0.9" fill="#1010c0"/>
<rect x="321.8" y="314.1" width="0.9" height="0.9" fill="#1010c0"/>
<rect x="319.5" y="323.7" width="0.9" height="0.9" fill="#1010c0"/>
<rect x="314.7" y="329.9" width="0.9" height="0.9" fill="#1010c0"/>
<rect x="310.8" y="304.3" width="0.9" height="0.9" fill="#1010c0"/>
<rect x="311.8" y="301.1" width="0.9" height="0.9" fill="#1010c0"/>
<rect x="318.9" y="327.1" width="0.9" height="0.9" fill="#1010c0"/>
<rect x="313.9" y="328.6" width="0.9" height="0.9" fill="#1010c0"/>
<rect x="320.2" y="323.4" width="0.9" height="0.9" fill="#1010c0"/>
<rect x="321.3" y="301.0" width="0.9" height="0.9" fill="#1010c0"/>
<rect x="308.8" y="321.7" width="0.9" height="0.9" fill="#1010c0"/>
<rect x="322.1" y="315.1" width="0.9" height="0.9" fill="#1010c0"/>
<rect x="309.9" y="306.4" width="0.9" height="0.9" fill="#1010c0"/>
<rect x="312.7" y="299.8" width="0.9" height="0.9" fill="#1010c0"/>
<rect x="322.4" y="307.2" width="0.9" height="0.9" fill="#1010c0"/>
<rect x="313.4" y="331.0" width="0.9" height="0.9" fill="#1010c0"/>
<rect x="321.4" y="318.4" width="0.9" height="0.9" fill="#1010c0"/>
<rect x="308.8" y="321.3" width="0.9" height="0.9" fill="#1010c0"/>
<rect x="321.4" y="320.1" width="0.9" height="0.9" fill="#1010c0"/>
<rect x="322.0" y="315.2" width="0.9" height="0.9" fill="#1010c0"/>
<rect x="321.6" y="308.2" width="0.9" height="0.9" fill="#1010c0"/>
<rect x="315.8" y="329.4" width="0.9" height="0.9" fill="#1010c0"/>
<rect x="308.4" y="311.7" width="0.9" height="0.9" fill="#1010c0"/>
<rect x="319.1" y="299.1" width="0.9" height="0.9" fill="#1010c0"/>
<rect x="311.2" y="327.7" width="0.9" height="0.9" fill="#1010c0"/>
<rect x="321.8" y="319.2" width="0.9" height="0.9" fill="#1010c0"/>
<rect x="318.4" y="296.4" width="0.9" height="0.9" fill="#1010c0"/>
<rect x="322.4" y="314.6" width="0.9" height="0.9" fill="#1010c0"/>
<rect x="316.8" y="296.7" width="0.9" height="0.9" fill="#1010c0"/>
<rect x="316.6" y="296.8" width="0.9" height="0.9" fill="#1010c0"/>
<rect x="314.7" y="328.3" width="0.9" height="0.9" fill="#1010c0"/>
<rect x="314.4" y="328.2" width="0.9" height="0.9" fill="#1010c0"/>
<rect x="309.9" y="327.7" width="0.9" height="0.9" fill="#1010c0"/>
<rect x="314.7" y="296.3" width="0.9" height="0.9" fill="#1010c0"/>
<rect x="315.4" y="297.7" width="0.9" height="0.9" fill="#1010c0"/>
<rect x="309.6" y="307.1" width="0.9" height="0.9" fill="#1010c0"/>
<rect x="318.5" y="297.2" width="0.9" height="0.9" fill="#1010c0"/>
<rect x="312.8" y="330.0" width="0.9" height="0.9" fill="#1010c0"/>
<rect x="321.8" y="310.4" width="0.9" height="0.9" fill="#1010c0"/>
<rect x="320.7" y="303.4" width="0.9" height="0.9" fill="#1010c0"/>
<rect x="313.2" y="328.7" width="0.9" height="0.9" fill="#1010c0"/>
<rect x="316.9" y="295.2" width="0.9" height="0.9" fill="#1010c0"/>
<rect x="316.8" y="297.2" width="0.9" height="0.9" fill="#1010c0"/>
<rect x="321.0" y="302.7" width="0.9" height="0.9" fill="#1010c0"/>
<rect x="313.9" y="331.0" width="0.9" height="0.9" fill="#1010c0"/>
<rect x="311.9" y="300.1" width="0.9" height="0.9" fill="#1010c0"/>
<rect x="313.3" y="297.2" width="0.9" height="0.9" fill="#1010c0"/>
<rect x="307.7" y="315.8" width="0.9" height="0.9" fill="#1010c0"/>
<rect x="314.8" y="296.2" width="0.9" height="0.9" fill="#1010c0"/>
<rect x="307.9" y="319.1" width="0.9" height="0.9" fill="#1010c0"/>
<rect x="310.2" y="305.7" width="0.9" height="0.9" fill="#1010c0"/>
<rect x="315.2" y="329.8" width="0.9" height="0.9" fill="#1010c0"/>
<rect x="321.0" y="322.2" width="0.9" height="0.9" fill="#1010c0"/>
<rect x="317.9" y="325.4" width="0.9" height="0.9" fill="#1010c0"/>
<rect x="320.0" y="324.9" width="0.9" height="0.9" fill="#1010c0"/>
<rect x="310.2" y="325.5" width="0.9" height="0.9" fill="#1010c0"/>
<rect x="321.1" y="316.5" width="0.9" height="0.9" fill="#1010c0"/>
<rect x="314.6" y="297.0" width="0.9" height="0.9" fill="#1010c0"/>
<rect x="314.8" y="296.6" width="0.9" height="0.9" fill="#1010c0"/>
<rect x="321.0" y="320.6" width="0.9" height="0.9" fill="#1010c0"/>
<rect x="309.0" y="325.9" width="0.9" height="0.9" fill="#1010c0"/>
<rect x="319.9" y="297.3" width="0.9" height="0.9" fill="#1010c0"/>
<rect x="321.3" y="321.0" width="0.9" height="0.9" fill="#1010c0"/>
<rect x="322.4" y="304.6" width="0.9" height="0.9" fill="#1010c0"/>
<rect x="319.4" y="323.4" width="0.9" height="0.9" fill="#1010c0"/>
<rect x="319.1" y="323.4" width="0.9" height="0.9" fill="#1010c0"/>
<rect x="320.7" y="299.2" width="0.9" height="0.9" fill="#1010c0"/>
<rect x="312.0" y="299.5" width="0.9" height="0.9" fill="#1010c0"/>
<rect x="312.2" y="301.0" width="0.9" height="0.9" fill="#1010c0"/>
<rect x="319.5" y="322.6" width="0.9" height="0.9" fill="#1010c0"/>
<rect x="317.2" y="297.6" width="0.9" height="0.9" fill="#1010c0"/>
<rect x="310.8" y="327.6" width="0.9" height="0.9" fill="#1010c0"/>
<rect x="321.5" y="315.9" width="0.9" height="0.9" fill="#1010c0"/>
<rect x="312.0" y="329.9" width="0.9" height="0.9" fill="#1010c0"/>
<rect x="309.4" y="324.4" width="0.9" height="0.9" fill="#1010c0"/>
<rect x="322.2" y="310.1" width="0.9" height="0.9" fill="#1010c0"/>
<rect x="320.6" y="300.0" width="0.9" height="0.9" fill="#1010c0"/>
<rect x="321.5" y="317.0" width="0.9" height="0.9" fill="#1010c0"/>
<rect x="307.8" y="319.2" width="0.9" height="0.9" fill="#1010c0"/>
<rect x="309.6" y="326.8" width="0.9" height="0.9" fill="#1010c0"/>
<rect x="309.5" y="308.8" width="0.9" height="0.9" fill="#1010c0"/>
<rect x="320.4" y="302.0" width="0.9" height="0.9" fill="#1010c0"/>
<rect x="319.3" y="299.4" width="0.9" height="0.9" fill="#1010c0"/>
<rect x="321.6" y="313.9" width="0.9" height="0.9" fill="#1010c0"/>
<rect x="317.7" y="295.2" width="0.9" height="0.9" fill="#1010c0"/>
<rect x="322.0" y="314.3" width="0.9" height="0.9" fill="#1010c0"/>
<rect x="308.0" y="313.3" width="0.9" height="0.9" fill="#1010c0"/>
<rect x="316.5" y="328.6" width="0.9" height="0.9" fill="#1010c0"/>
<rect x="309.4" y="327.1" width="0.9" height="0.9" fill="#1010c0"/>
<rect x="312.9" y="331.0" width="0.9" height="0.9" fill="#1010c0"/>
<rect x="312.2" y="328.3" width="0.9" height="0.9" fill="#1010c0"/>
<rect x="314.9" y="297.2" width="0.9" height="0.9" fill="#1010c0"/>
<rect x="319.7" y="324.5" width="0.9" height="0.9" fill="#1010c0"/>
<rect x="318.5" y="295.5" width="0.9" height="0.9" fill="#1a1ad0"/>
<rect x="319.3" y="294.2" width="0.9" height="0.9" fill="#1a1ad0"/>
<rect x="323.5" y="305.0" width="0.9" height="0.9" fill="#5060e0"/>
<path d="M322.03 314.27 L322.29 316.94 L321.75 319.42 L321.18 321.87 L320.32 323.87 L319.31 325.37 L318.36 326.98 L317.32 328.19 L316.26 329.98 L315.14 328.93 L313.92 330.57 L313.08 328.59 L312.06 328.25 L311.15 327.31 L309.98 326.90 L309.62 324.55 L309.24 322.42 L308.54 320.63 L308.96 317.79 L308.83 315.43 L309.01 312.90 L309.25 310.28 L309.81 307.76 L310.58 305.49 L311.55 303.70 L312.43 301.91 L313.42 300.65 L314.27 298.25 L315.35 297.67 L316.41 297.02 L317.34 298.03 L318.35 297.81 L319.40 297.89 L320.15 299.33 L320.61 301.45 L321.42 302.67 L322.22 304.21 L322.07 307.06 L322.22 309.41 L322.33 311.79 Z" fill="#1010c0"/>
<path d="M321.64 314.22 L321.47 316.53 L320.63 318.34 L320.12 320.27 L319.54 322.13 L318.83 323.80 L318.05 325.41 L317.07 325.93 L316.16 326.93 L315.21 327.11 L314.13 328.51 L313.22 327.81 L312.57 326.18 L311.40 326.56 L311.18 324.11 L310.48 322.99 L309.67 321.83 L309.53 319.65 L309.47 317.48 L309.74 315.19 L310.11 313.01 L310.16 310.75 L310.96 308.90 L311.48 306.91 L312.07 304.95 L312.96 303.79 L313.65 301.99 L314.46 300.32 L315.40 299.69 L316.30 299.58 L317.21 299.27 L318.02 299.82 L318.68 300.94 L319.58 301.15 L320.12 302.66 L320.85 303.77 L321.39 305.41 L321.37 307.78 L321.64 309.78 L321.79 311.94 Z" fill="#1a5ae8"/>
<path d="M320.91 314.15 L320.57 316.07 L320.49 318.21 L320.08 320.21 L319.41 321.85 L318.67 323.29 L317.92 324.75 L317.02 325.52 L316.13 326.17 L315.24 326.27 L314.38 326.12 L313.47 326.35 L312.86 325.02 L312.04 324.64 L311.25 323.96 L310.77 322.47 L310.44 320.78 L310.45 318.75 L310.25 316.99 L310.28 315.04 L310.36 313.04 L310.81 311.08 L311.09 309.03 L311.52 306.98 L312.48 305.94 L313.01 303.99 L313.76 302.57 L314.63 302.10 L315.43 301.27 L316.28 300.14 L316.97 301.50 L317.82 300.97 L318.41 302.07 L319.30 302.05 L319.97 303.02 L320.25 304.90 L320.39 306.85 L320.94 308.22 L321.07 310.14 L321.21 312.10 Z" fill="#18b8e8"/>
<path d="M320.43 314.10 L320.26 315.91 L319.98 317.72 L319.47 319.29 L318.91 320.74 L318.38 322.33 L317.58 323.05 L316.88 324.21 L316.08 324.64 L315.28 325.23 L314.52 324.85 L313.67 325.21 L313.04 324.29 L312.47 323.35 L311.88 322.49 L311.41 321.33 L311.18 319.77 L310.86 318.35 L310.78 316.66 L310.74 314.92 L311.01 313.11 L311.32 311.34 L311.71 309.64 L312.08 307.86 L312.62 306.26 L313.32 305.11 L314.04 304.17 L314.71 302.94 L315.46 302.58 L316.18 302.36 L316.88 302.35 L317.63 302.12 L318.29 302.60 L318.86 303.48 L319.34 304.59 L319.80 305.77 L320.05 307.33 L320.50 308.67 L320.46 310.54 L320.57 312.28 Z" fill="#40d880"/>
<path d="M319.84 314.04 L319.66 315.61 L319.30 317.06 L318.89 318.42 L318.48 319.79 L317.89 320.74 L317.38 322.03 L316.69 322.53 L316.03 323.34 L315.35 323.30 L314.67 323.42 L314.03 323.15 L313.41 322.83 L312.90 322.05 L312.47 321.11 L311.94 320.37 L311.76 318.98 L311.59 317.64 L311.50 316.21 L311.50 314.72 L311.65 313.17 L311.85 311.62 L312.18 310.11 L312.66 308.78 L313.05 307.29 L313.62 306.16 L314.29 305.58 L314.85 304.43 L315.49 303.84 L316.13 303.60 L316.72 303.92 L317.36 303.70 L317.90 304.25 L318.31 305.23 L318.74 306.07 L319.30 306.72 L319.54 308.07 L319.65 309.54 L319.73 311.01 L319.76 312.50 Z" fill="#70dc30"/>
<path d="M318.78 313.92 L318.74 315.14 L318.45 316.25 L318.14 317.28 L317.89 318.47 L317.46 319.33 L316.94 319.84 L316.49 320.71 L315.95 321.00 L315.42 321.31 L314.89 321.30 L314.36 321.25 L313.89 320.86 L313.46 320.37 L313.18 319.45 L312.81 318.81 L312.62 317.81 L312.44 316.80 L312.44 315.63 L312.38 314.48 L312.56 313.27 L312.80 312.11 L313.06 310.98 L313.39 309.94 L313.71 308.87 L314.17 308.14 L314.58 307.26 L315.07 306.82 L315.54 306.26 L316.03 306.03 L316.50 305.96 L316.98 305.96 L317.33 306.66 L317.81 306.82 L318.11 307.63 L318.41 308.42 L318.66 309.34 L318.85 310.36 L318.86 311.57 L318.88 312.73 Z" fill="#d8e020"/>
<path d="M318.37 313.88 L318.12 314.83 L318.02 315.84 L317.78 316.74 L317.42 317.43 L317.14 318.30 L316.76 318.94 L316.36 319.51 L315.91 319.64 L315.46 320.07 L315.04 319.93 L314.62 319.79 L314.19 319.67 L313.93 318.95 L313.55 318.61 L313.31 317.90 L313.17 317.05 L312.97 316.28 L313.01 315.28 L313.01 314.32 L313.10 313.33 L313.22 312.32 L313.51 311.43 L313.75 310.50 L314.06 309.69 L314.39 308.93 L314.75 308.23 L315.17 307.92 L315.56 307.39 L315.97 307.35 L316.36 307.28 L316.73 307.48 L317.10 307.67 L317.47 307.93 L317.72 308.59 L317.98 309.24 L318.11 310.13 L318.24 311.00 L318.31 311.92 L318.36 312.87 Z" fill="#f08a10"/>
<path d="M317.78 313.82 L317.71 314.62 L317.48 315.31 L317.36 316.11 L317.14 316.81 L316.84 317.32 L316.51 317.68 L316.20 318.13 L315.86 318.31 L315.52 318.51 L315.16 318.75 L314.83 318.56 L314.52 318.35 L314.22 318.05 L313.97 317.63 L313.80 317.02 L313.66 316.39 L313.56 315.70 L313.52 314.96 L313.55 314.17 L313.61 313.38 L313.79 312.62 L313.91 311.83 L314.15 311.14 L314.37 310.43 L314.69 309.99 L314.98 309.49 L315.29 309.16 L315.59 308.68 L315.92 308.48 L316.23 308.53 L316.52 308.71 L316.83 308.79 L317.09 309.14 L317.30 309.64 L317.46 310.24 L317.61 310.85 L317.73 311.52 L317.77 312.27 L317.80 313.03 Z" fill="#e82a10"/>
<path d="M317.04 313.74 L317.01 314.26 L316.85 314.71 L316.76 315.21 L316.58 315.57 L316.42 315.94 L316.25 316.36 L316.03 316.57 L315.81 316.81 L315.58 316.81 L315.37 316.75 L315.15 316.76 L314.94 316.65 L314.74 316.50 L314.58 316.21 L314.49 315.79 L314.40 315.38 L314.36 314.91 L314.30 314.47 L314.34 313.96 L314.40 313.46 L314.48 312.97 L314.59 312.50 L314.68 311.99 L314.87 311.63 L315.01 311.15 L315.24 310.96 L315.42 310.59 L315.63 310.54 L315.83 310.47 L316.05 310.32 L316.23 310.47 L316.43 310.52 L316.57 310.83 L316.70 311.12 L316.87 311.37 L316.96 311.78 L317.04 312.22 L317.07 312.72 L317.03 313.24 Z" fill="#d81010"/>
<text x="306.6" y="281.4" font-size="8" fill="#222" text-anchor="start" textLength="10.4" lengthAdjust="spacingAndGlyphs" stroke="#222" stroke-width="0.22">Pre</text>
<text x="322.1" y="293.3" font-size="7.7" fill="#222" text-anchor="start" textLength="12.9" lengthAdjust="spacingAndGlyphs" stroke="#222" stroke-width="0.22">53%</text>
<text x="307.9" y="343.0" font-size="8" fill="#222" text-anchor="start" textLength="12.1" lengthAdjust="spacingAndGlyphs" stroke="#222" stroke-width="0.22">CD3</text>
<rect x="344.40" y="283.40" width="48.40" height="50.60" fill="none" stroke="#6a6a6a" stroke-width="1" />
<line x1="344.4" y1="283.4" x2="344.4" y2="334.0" stroke="#aaa" stroke-width="0.9" />
<line x1="344.4" y1="334.0" x2="392.8" y2="334.0" stroke="#aaa" stroke-width="0.9" />
<line x1="342.79999999999995" y1="327.0" x2="344.4" y2="327.0" stroke="#666" stroke-width="0.7" />
<rect x="340.8" y="325.4" width="1" height="1.2" fill="#999"/>
<line x1="342.79999999999995" y1="316.6" x2="344.4" y2="316.6" stroke="#666" stroke-width="0.7" />
<rect x="340.8" y="315.0" width="1" height="1.2" fill="#999"/>
<line x1="342.79999999999995" y1="306.2" x2="344.4" y2="306.2" stroke="#666" stroke-width="0.7" />
<rect x="340.8" y="304.6" width="1" height="1.2" fill="#999"/>
<line x1="342.79999999999995" y1="295.79999999999995" x2="344.4" y2="295.79999999999995" stroke="#666" stroke-width="0.7" />
<rect x="340.8" y="294.2" width="1" height="1.2" fill="#999"/>
<line x1="342.79999999999995" y1="285.4" x2="344.4" y2="285.4" stroke="#666" stroke-width="0.7" />
<rect x="340.8" y="283.8" width="1" height="1.2" fill="#999"/>
<line x1="350.4" y1="334.0" x2="350.4" y2="335.6" stroke="#666" stroke-width="0.7" />
<line x1="362.6424242424242" y1="334.0" x2="362.6424242424242" y2="335.6" stroke="#666" stroke-width="0.7" />
<line x1="374.8848484848485" y1="334.0" x2="374.8848484848485" y2="335.6" stroke="#666" stroke-width="0.7" />
<line x1="387.1272727272727" y1="334.0" x2="387.1272727272727" y2="335.6" stroke="#666" stroke-width="0.7" />
<line x1="364.5" y1="283.4" x2="364.5" y2="334.0" stroke="#777" stroke-width="1.1" />
<line x1="344.4" y1="314.2" x2="392.8" y2="314.2" stroke="#777" stroke-width="1.1" />
<rect x="367.0" y="310.9" width="0.9" height="0.9" fill="#1010c0"/>
<rect x="364.1" y="322.2" width="0.9" height="0.9" fill="#1010c0"/>
<rect x="370.6" y="331.8" width="0.9" height="0.9" fill="#1010c0"/>
<rect x="370.7" y="309.6" width="0.9" height="0.9" fill="#1010c0"/>
<rect x="378.4" y="321.0" width="0.9" height="0.9" fill="#1010c0"/>
<rect x="374.5" y="310.3" width="0.9" height="0.9" fill="#1010c0"/>
<rect x="368.2" y="330.3" width="0.9" height="0.9" fill="#1010c0"/>
<rect x="374.6" y="330.1" width="0.9" height="0.9" fill="#1010c0"/>
<rect x="365.2" y="320.1" width="0.9" height="0.9" fill="#1010c0"/>
<rect x="366.3" y="327.7" width="0.9" height="0.9" fill="#1010c0"/>
<rect x="364.7" y="323.6" width="0.9" height="0.9" fill="#1010c0"/>
<rect x="375.4" y="329.1" width="0.9" height="0.9" fill="#1010c0"/>
<rect x="366.4" y="328.0" width="0.9" height="0.9" fill="#1010c0"/>
<rect x="367.3" y="311.3" width="0.9" height="0.9" fill="#1010c0"/>
<rect x="365.6" y="327.0" width="0.9" height="0.9" fill="#1010c0"/>
<rect x="378.4" y="315.9" width="0.9" height="0.9" fill="#1010c0"/>
<rect x="365.7" y="314.9" width="0.9" height="0.9" fill="#1010c0"/>
<rect x="378.1" y="324.5" width="0.9" height="0.9" fill="#1010c0"/>
<rect x="369.9" y="308.0" width="0.9" height="0.9" fill="#1010c0"/>
<rect x="367.5" y="329.3" width="0.9" height="0.9" fill="#1010c0"/>
<rect x="378.7" y="318.2" width="0.9" height="0.9" fill="#1010c0"/>
<rect x="366.5" y="312.9" width="0.9" height="0.9" fill="#1010c0"/>
<rect x="364.6" y="324.4" width="0.9" height="0.9" fill="#1010c0"/>
<rect x="366.0" y="327.4" width="0.9" height="0.9" fill="#1010c0"/>
<rect x="365.9" y="312.0" width="0.9" height="0.9" fill="#1010c0"/>
<rect x="374.3" y="309.6" width="0.9" height="0.9" fill="#1010c0"/>
<rect x="378.0" y="320.0" width="0.9" height="0.9" fill="#1010c0"/>
<rect x="365.0" y="324.6" width="0.9" height="0.9" fill="#1010c0"/>
<rect x="375.0" y="308.7" width="0.9" height="0.9" fill="#1010c0"/>
<rect x="378.3" y="323.1" width="0.9" height="0.9" fill="#1010c0"/>
<rect x="374.8" y="308.6" width="0.9" height="0.9" fill="#1010c0"/>
<rect x="365.8" y="314.6" width="0.9" height="0.9" fill="#1010c0"/>
<rect x="376.2" y="310.2" width="0.9" height="0.9" fill="#1010c0"/>
<rect x="369.1" y="308.3" width="0.9" height="0.9" fill="#1010c0"/>
<rect x="367.4" y="327.8" width="0.9" height="0.9" fill="#1010c0"/>
<rect x="364.8" y="315.3" width="0.9" height="0.9" fill="#1010c0"/>
<rect x="373.1" y="330.9" width="0.9" height="0.9" fill="#1010c0"/>
<rect x="377.6" y="315.4" width="0.9" height="0.9" fill="#1010c0"/>
<rect x="366.3" y="312.0" width="0.9" height="0.9" fill="#1010c0"/>
<rect x="365.1" y="321.5" width="0.9" height="0.9" fill="#1010c0"/>
<rect x="370.6" y="331.3" width="0.9" height="0.9" fill="#1010c0"/>
<rect x="373.8" y="308.9" width="0.9" height="0.9" fill="#1010c0"/>
<rect x="377.3" y="326.1" width="0.9" height="0.9" fill="#1010c0"/>
<rect x="372.9" y="309.1" width="0.9" height="0.9" fill="#1010c0"/>
<rect x="365.3" y="313.4" width="0.9" height="0.9" fill="#1010c0"/>
<rect x="377.0" y="312.4" width="0.9" height="0.9" fill="#1010c0"/>
<rect x="364.5" y="320.9" width="0.9" height="0.9" fill="#1010c0"/>
<rect x="373.3" y="329.4" width="0.9" height="0.9" fill="#1010c0"/>
<rect x="373.9" y="330.3" width="0.9" height="0.9" fill="#1010c0"/>
<rect x="366.5" y="327.9" width="0.9" height="0.9" fill="#1010c0"/>
<rect x="365.5" y="325.7" width="0.9" height="0.9" fill="#1010c0"/>
<rect x="374.7" y="328.0" width="0.9" height="0.9" fill="#1010c0"/>
<rect x="378.1" y="319.7" width="0.9" height="0.9" fill="#1010c0"/>
<rect x="376.6" y="326.9" width="0.9" height="0.9" fill="#1010c0"/>
<rect x="373.5" y="309.5" width="0.9" height="0.9" fill="#1010c0"/>
<rect x="366.4" y="313.0" width="0.9" height="0.9" fill="#1010c0"/>
<rect x="365.4" y="318.0" width="0.9" height="0.9" fill="#1010c0"/>
<rect x="378.6" y="322.5" width="0.9" height="0.9" fill="#1010c0"/>
<rect x="376.4" y="311.5" width="0.9" height="0.9" fill="#1010c0"/>
<rect x="365.7" y="314.9" width="0.9" height="0.9" fill="#1010c0"/>
<rect x="373.2" y="308.8" width="0.9" height="0.9" fill="#1010c0"/>
<rect x="378.4" y="316.0" width="0.9" height="0.9" fill="#1010c0"/>
<rect x="375.2" y="308.6" width="0.9" height="0.9" fill="#1010c0"/>
<rect x="370.8" y="329.7" width="0.9" height="0.9" fill="#1010c0"/>
<rect x="372.9" y="329.7" width="0.9" height="0.9" fill="#1010c0"/>
<rect x="376.6" y="325.0" width="0.9" height="0.9" fill="#1010c0"/>
<rect x="364.8" y="315.0" width="0.9" height="0.9" fill="#1010c0"/>
<rect x="364.1" y="322.3" width="0.9" height="0.9" fill="#1010c0"/>
<rect x="377.0" y="314.3" width="0.9" height="0.9" fill="#1010c0"/>
<rect x="366.3" y="312.9" width="0.9" height="0.9" fill="#1010c0"/>
<rect x="376.4" y="328.2" width="0.9" height="0.9" fill="#1010c0"/>
<rect x="370.5" y="330.9" width="0.9" height="0.9" fill="#1010c0"/>
<rect x="367.2" y="309.9" width="0.9" height="0.9" fill="#1010c0"/>
<rect x="368.7" y="309.8" width="0.9" height="0.9" fill="#1010c0"/>
<rect x="365.2" y="322.6" width="0.9" height="0.9" fill="#1010c0"/>
<rect x="378.9" y="317.3" width="0.9" height="0.9" fill="#1010c0"/>
<rect x="372.0" y="329.6" width="0.9" height="0.9" fill="#1010c0"/>
<rect x="370.6" y="330.4" width="0.9" height="0.9" fill="#1010c0"/>
<rect x="377.8" y="312.9" width="0.9" height="0.9" fill="#1010c0"/>
<rect x="375.1" y="311.0" width="0.9" height="0.9" fill="#1010c0"/>
<rect x="373.7" y="308.3" width="0.9" height="0.9" fill="#1010c0"/>
<rect x="367.4" y="309.5" width="0.9" height="0.9" fill="#1010c0"/>
<rect x="377.2" y="323.4" width="0.9" height="0.9" fill="#1010c0"/>
<rect x="372.3" y="307.4" width="0.9" height="0.9" fill="#1010c0"/>
<rect x="369.0" y="309.8" width="0.9" height="0.9" fill="#1010c0"/>
<rect x="365.8" y="312.8" width="0.9" height="0.9" fill="#1010c0"/>
<rect x="376.3" y="326.5" width="0.9" height="0.9" fill="#1010c0"/>
<rect x="370.6" y="329.9" width="0.9" height="0.9" fill="#1010c0"/>
<rect x="365.0" y="320.4" width="0.9" height="0.9" fill="#1010c0"/>
<rect x="371.4" y="330.0" width="0.9" height="0.9" fill="#1010c0"/>
<rect x="369.2" y="310.3" width="0.9" height="0.9" fill="#1010c0"/>
<rect x="370.7" y="309.2" width="0.9" height="0.9" fill="#1010c0"/>
<rect x="378.5" y="322.7" width="0.9" height="0.9" fill="#1010c0"/>
<rect x="372.2" y="331.6" width="0.9" height="0.9" fill="#1010c0"/>
<rect x="376.8" y="310.9" width="0.9" height="0.9" fill="#1010c0"/>
<rect x="375.3" y="328.3" width="0.9" height="0.9" fill="#1010c0"/>
<rect x="377.2" y="326.8" width="0.9" height="0.9" fill="#1010c0"/>
<rect x="375.8" y="310.1" width="0.9" height="0.9" fill="#1010c0"/>
<rect x="365.0" y="322.4" width="0.9" height="0.9" fill="#1010c0"/>
<rect x="375.0" y="309.7" width="0.9" height="0.9" fill="#1010c0"/>
<rect x="367.4" y="311.8" width="0.9" height="0.9" fill="#1010c0"/>
<rect x="372.0" y="329.7" width="0.9" height="0.9" fill="#1010c0"/>
<rect x="370.5" y="308.4" width="0.9" height="0.9" fill="#1010c0"/>
<rect x="375.5" y="329.3" width="0.9" height="0.9" fill="#1010c0"/>
<rect x="370.2" y="330.5" width="0.9" height="0.9" fill="#1010c0"/>
<rect x="374.6" y="328.6" width="0.9" height="0.9" fill="#1010c0"/>
<rect x="375.5" y="310.6" width="0.9" height="0.9" fill="#1010c0"/>
<rect x="374.3" y="329.5" width="0.9" height="0.9" fill="#1010c0"/>
<rect x="367.8" y="330.4" width="0.9" height="0.9" fill="#1010c0"/>
<rect x="376.7" y="327.9" width="0.9" height="0.9" fill="#1010c0"/>
<rect x="378.1" y="324.1" width="0.9" height="0.9" fill="#1010c0"/>
<rect x="368.8" y="310.2" width="0.9" height="0.9" fill="#1010c0"/>
<rect x="364.9" y="320.7" width="0.9" height="0.9" fill="#1010c0"/>
<rect x="370.6" y="330.1" width="0.9" height="0.9" fill="#1010c0"/>
<rect x="366.0" y="328.5" width="0.9" height="0.9" fill="#1010c0"/>
<rect x="378.9" y="319.8" width="0.9" height="0.9" fill="#1010c0"/>
<rect x="376.5" y="326.0" width="0.9" height="0.9" fill="#1010c0"/>
<rect x="376.7" y="313.6" width="0.9" height="0.9" fill="#1010c0"/>
<rect x="371.0" y="308.9" width="0.9" height="0.9" fill="#1010c0"/>
<rect x="377.6" y="318.5" width="0.9" height="0.9" fill="#1010c0"/>
<rect x="374.3" y="309.5" width="0.9" height="0.9" fill="#1010c0"/>
<rect x="375.0" y="327.6" width="0.9" height="0.9" fill="#1010c0"/>
<rect x="375.4" y="309.9" width="0.9" height="0.9" fill="#1010c0"/>
<rect x="373.6" y="329.9" width="0.9" height="0.9" fill="#1010c0"/>
<rect x="377.2" y="314.3" width="0.9" height="0.9" fill="#1010c0"/>
<rect x="366.0" y="314.7" width="0.9" height="0.9" fill="#1010c0"/>
<rect x="373.9" y="330.4" width="0.9" height="0.9" fill="#1010c0"/>
<rect x="370.5" y="309.2" width="0.9" height="0.9" fill="#1010c0"/>
<rect x="376.7" y="324.8" width="0.9" height="0.9" fill="#1010c0"/>
<rect x="366.5" y="312.2" width="0.9" height="0.9" fill="#1010c0"/>
<rect x="372.5" y="305.5" width="0.9" height="0.9" fill="#1a1ad0"/>
<rect x="373.4" y="303.2" width="0.9" height="0.9" fill="#1a1ad0"/>
<rect x="374.6" y="301.0" width="0.9" height="0.9" fill="#4040d0"/>
<rect x="376.0" y="303.5" width="0.9" height="0.9" fill="#8080e0"/>
<rect x="377.5" y="306.0" width="0.9" height="0.9" fill="#a0a0e0"/>
<path d="M378.41 320.34 L378.19 321.99 L378.17 323.78 L377.74 325.43 L377.16 326.99 L376.27 328.10 L375.24 328.77 L374.29 329.43 L373.46 330.85 L372.37 330.78 L371.31 331.28 L370.37 330.22 L369.19 330.72 L368.42 329.44 L367.32 329.04 L366.54 327.85 L366.15 326.17 L366.04 324.40 L365.04 323.21 L365.22 321.37 L364.91 319.63 L365.56 317.99 L365.95 316.41 L365.97 314.49 L366.91 313.37 L367.75 312.31 L368.49 311.05 L369.35 309.94 L370.47 310.07 L371.42 309.07 L372.47 309.09 L373.52 309.18 L374.40 310.13 L375.54 310.12 L376.47 310.99 L377.26 312.15 L377.53 313.96 L378.28 315.21 L378.35 316.98 L378.80 318.59 Z" fill="#1010c0"/>
<path d="M377.10 320.27 L377.48 321.77 L377.25 323.22 L376.57 324.34 L376.07 325.54 L375.46 326.60 L374.76 327.49 L373.85 327.69 L373.22 329.14 L372.28 328.65 L371.45 328.66 L370.64 328.43 L369.82 328.22 L368.88 328.20 L368.50 326.72 L367.89 325.87 L367.07 325.18 L366.98 323.69 L366.85 322.36 L366.34 321.14 L366.36 319.71 L366.54 318.30 L366.70 316.87 L367.45 315.86 L367.55 314.23 L368.26 313.26 L369.21 312.95 L369.92 312.21 L370.65 311.35 L371.51 311.06 L372.36 311.23 L373.16 311.55 L374.02 311.62 L374.68 312.45 L375.55 312.80 L376.30 313.57 L376.42 315.15 L377.05 316.13 L377.42 317.42 L377.17 318.92 Z" fill="#1a4ae0"/>
<path d="M376.91 320.26 L376.84 321.56 L376.29 322.65 L375.96 323.78 L375.70 325.05 L375.02 325.79 L374.36 326.47 L373.81 327.54 L373.03 327.85 L372.24 327.70 L371.50 327.66 L370.76 327.62 L370.03 327.39 L369.20 327.33 L368.62 326.48 L368.02 325.68 L367.60 324.61 L367.23 323.51 L367.44 322.09 L367.07 320.99 L366.82 319.73 L366.96 318.44 L367.58 317.40 L367.83 316.22 L368.19 315.07 L368.84 314.32 L369.39 313.43 L370.18 313.21 L370.81 312.46 L371.56 312.14 L372.29 312.55 L373.01 312.56 L373.89 312.14 L374.54 312.84 L375.23 313.42 L375.66 314.50 L376.19 315.39 L376.59 316.48 L376.83 317.69 L376.45 319.07 Z" fill="#18a8e8"/>
<path d="M376.08 320.22 L375.88 321.26 L375.78 322.34 L375.39 323.24 L375.05 324.19 L374.65 325.10 L374.07 325.68 L373.44 326.07 L372.84 326.55 L372.20 326.73 L371.53 326.99 L370.91 326.61 L370.30 326.34 L369.68 326.02 L369.24 325.26 L368.70 324.69 L368.24 323.93 L368.04 322.90 L367.90 321.87 L367.76 320.85 L367.74 319.78 L367.94 318.75 L368.15 317.74 L368.44 316.79 L368.79 315.87 L369.23 315.06 L369.78 314.43 L370.36 313.93 L370.98 313.62 L371.60 313.22 L372.26 313.05 L372.91 313.26 L373.53 313.56 L374.12 313.98 L374.58 314.71 L375.13 315.28 L375.46 316.18 L375.77 317.09 L375.98 318.09 L376.05 319.15 Z" fill="#40d890"/>
<path d="M375.34 320.18 L375.24 321.06 L375.06 321.91 L374.87 322.76 L374.52 323.48 L374.16 324.19 L373.65 324.59 L373.20 325.13 L372.71 325.61 L372.14 325.58 L371.60 325.73 L371.06 325.61 L370.56 325.31 L370.00 325.15 L369.64 324.46 L369.18 323.97 L368.97 323.14 L368.75 322.37 L368.42 321.63 L368.43 320.71 L368.51 319.82 L368.53 318.93 L368.70 318.07 L368.89 317.21 L369.32 316.58 L369.69 315.90 L370.05 315.14 L370.57 314.75 L371.13 314.62 L371.65 314.39 L372.20 314.34 L372.75 314.33 L373.27 314.59 L373.79 314.89 L374.23 315.40 L374.57 316.09 L374.93 316.74 L375.18 317.53 L375.35 318.38 L375.38 319.29 Z" fill="#80dc30"/>
<path d="M374.62 320.14 L374.54 320.84 L374.44 321.53 L374.13 322.07 L373.98 322.76 L373.58 323.11 L373.31 323.70 L372.92 324.00 L372.51 324.22 L372.10 324.48 L371.67 324.41 L371.26 324.30 L370.84 324.21 L370.45 323.94 L370.13 323.49 L369.86 322.99 L369.61 322.46 L369.42 321.87 L369.25 321.24 L369.25 320.54 L369.24 319.86 L369.28 319.17 L369.44 318.52 L369.64 317.90 L369.84 317.26 L370.13 316.73 L370.51 316.36 L370.89 316.03 L371.30 315.86 L371.71 315.69 L372.13 315.70 L372.55 315.66 L372.95 315.84 L373.29 316.24 L373.70 316.44 L373.93 317.02 L374.25 317.48 L374.44 318.09 L374.59 318.74 L374.53 319.46 Z" fill="#d8e020"/>
<path d="M374.03 320.11 L374.04 320.68 L373.82 321.16 L373.67 321.65 L373.53 322.17 L373.28 322.56 L373.04 322.98 L372.72 323.24 L372.39 323.39 L372.06 323.59 L371.72 323.52 L371.38 323.46 L371.05 323.35 L370.77 323.06 L370.50 322.75 L370.25 322.42 L370.08 321.96 L369.86 321.54 L369.78 320.99 L369.75 320.44 L369.81 319.89 L369.83 319.34 L369.93 318.81 L370.07 318.30 L370.27 317.83 L370.48 317.38 L370.76 317.01 L371.09 316.82 L371.42 316.63 L371.75 316.48 L372.09 316.38 L372.41 316.58 L372.74 316.69 L373.06 316.86 L373.28 317.28 L373.53 317.62 L373.79 317.97 L373.93 318.47 L373.99 319.02 L373.99 319.57 Z" fill="#f08a10"/>
<path d="M373.61 320.09 L373.55 320.52 L373.48 320.95 L373.37 321.36 L373.20 321.72 L372.98 321.99 L372.75 322.23 L372.52 322.46 L372.28 322.64 L372.02 322.73 L371.76 322.69 L371.50 322.65 L371.24 322.60 L371.01 322.42 L370.81 322.15 L370.58 321.94 L370.45 321.56 L370.39 321.14 L370.27 320.76 L370.20 320.35 L370.25 319.91 L370.25 319.48 L370.40 319.10 L370.49 318.69 L370.61 318.28 L370.81 317.99 L371.02 317.70 L371.28 317.56 L371.52 317.36 L371.78 317.27 L372.04 317.29 L372.31 317.28 L372.56 317.41 L372.81 317.52 L373.00 317.82 L373.18 318.13 L373.31 318.49 L373.42 318.86 L373.56 319.22 L373.54 319.67 Z" fill="#e82a10"/>
<text x="346.6" y="280.6" font-size="8.5" fill="#222" text-anchor="start" textLength="41.7" lengthAdjust="spacingAndGlyphs" stroke="#222" stroke-width="0.22">24 hours Post</text>
<text x="378.6" y="293.3" font-size="7.7" fill="#222" text-anchor="start" textLength="9.3" lengthAdjust="spacingAndGlyphs" stroke="#222" stroke-width="0.22">4%</text>
<text x="358.6" y="343.0" font-size="8" fill="#222" text-anchor="start" textLength="12.8" lengthAdjust="spacingAndGlyphs" stroke="#222" stroke-width="0.22">CD3</text>
<line x1="184.4" y1="348.4" x2="184.4" y2="394.1" stroke="#666" stroke-width="1" />
<line x1="184.4" y1="408.4" x2="184.4" y2="470.4" stroke="#666" stroke-width="1" />
<line x1="182.0" y1="348.4" x2="184.4" y2="348.4" stroke="#666" stroke-width="0.9" />
<text x="162.8" y="350.79999999999995" font-size="7" fill="#444" text-anchor="start" textLength="11.8" lengthAdjust="spacingAndGlyphs" stroke="#444" stroke-width="0.1">2x10</text>
<text x="175.3" y="348.79999999999995" font-size="3.9" fill="#444" text-anchor="start" textLength="5.2" lengthAdjust="spacingAndGlyphs" stroke="#444" stroke-width="0.08">14</text>
<line x1="182.0" y1="371.3" x2="184.4" y2="371.3" stroke="#666" stroke-width="0.9" />
<text x="162.8" y="373.7" font-size="7" fill="#444" text-anchor="start" textLength="11.8" lengthAdjust="spacingAndGlyphs" stroke="#444" stroke-width="0.1">1x10</text>
<text x="175.3" y="371.7" font-size="3.9" fill="#444" text-anchor="start" textLength="5.2" lengthAdjust="spacingAndGlyphs" stroke="#444" stroke-width="0.08">14</text>
<line x1="182.0" y1="394.1" x2="184.4" y2="394.1" stroke="#666" stroke-width="0.9" />
<text x="162.8" y="396.5" font-size="7" fill="#444" text-anchor="start" textLength="11.8" lengthAdjust="spacingAndGlyphs" stroke="#444" stroke-width="0.1">5x10</text>
<text x="175.3" y="394.5" font-size="3.9" fill="#444" text-anchor="start" textLength="5.2" lengthAdjust="spacingAndGlyphs" stroke="#444" stroke-width="0.08">13</text>
<line x1="182.0" y1="408.4" x2="184.4" y2="408.4" stroke="#666" stroke-width="0.9" />
<text x="162.8" y="410.79999999999995" font-size="7" fill="#444" text-anchor="start" textLength="11.8" lengthAdjust="spacingAndGlyphs" stroke="#444" stroke-width="0.1">2x10</text>
<text x="175.3" y="408.79999999999995" font-size="3.9" fill="#444" text-anchor="start" textLength="5.2" lengthAdjust="spacingAndGlyphs" stroke="#444" stroke-width="0.08">13</text>
<line x1="182.0" y1="429.6" x2="184.4" y2="429.6" stroke="#666" stroke-width="0.9" />
<text x="162.8" y="432.0" font-size="7" fill="#444" text-anchor="start" textLength="11.8" lengthAdjust="spacingAndGlyphs" stroke="#444" stroke-width="0.1">1x10</text>
<text x="175.3" y="430.0" font-size="3.9" fill="#444" text-anchor="start" textLength="5.2" lengthAdjust="spacingAndGlyphs" stroke="#444" stroke-width="0.08">13</text>
<line x1="182.0" y1="450.0" x2="184.4" y2="450.0" stroke="#666" stroke-width="0.9" />
<text x="162.8" y="452.4" font-size="7" fill="#444" text-anchor="start" textLength="11.8" lengthAdjust="spacingAndGlyphs" stroke="#444" stroke-width="0.1">5x10</text>
<text x="175.3" y="450.4" font-size="3.9" fill="#444" text-anchor="start" textLength="5.2" lengthAdjust="spacingAndGlyphs" stroke="#444" stroke-width="0.08">12</text>
<line x1="182.0" y1="470.4" x2="184.4" y2="470.4" stroke="#666" stroke-width="0.9" />
<text x="179.3" y="472.6" font-size="5.8" fill="#444" text-anchor="middle" stroke="#444" stroke-width="0.1">0</text>
<text x="159.0" y="377.4" font-size="7.2" fill="#333" text-anchor="end" textLength="53.8" lengthAdjust="spacingAndGlyphs" transform="rotate(-90 159.0 377.4)" stroke="#333" stroke-width="0.05">Copies/ug of DNA</text>
<line x1="184.4" y1="470.4" x2="384.2" y2="470.4" stroke="#555" stroke-width="0.9" />
<path d="M193.80 470.4 V438.00 H201.30 V470.4" fill="#f8891a" stroke="#1a1a1a" stroke-width="1.2"/>
<path d="M203.00 470.4 V466.70 H210.00 V470.4" fill="#f8891a" stroke="#1a1a1a" stroke-width="1.2"/>
<path d="M211.90 470.4 V467.60 H219.20 V470.4" fill="#f8891a" stroke="#1a1a1a" stroke-width="1.2"/>
<path d="M221.20 470.4 V465.70 H228.00 V470.4" fill="#f8891a" stroke="#1a1a1a" stroke-width="1.2"/>
<path d="M239.40 395.30 V382.90 H246.60 V395.30" fill="#fdbf7f" stroke="#1a1a1a" stroke-width="1.2"/>
<path d="M239.40 470.4 V408.00 M246.60 408.00 V470.4" fill="none" stroke="#1a1a1a" stroke-width="1.2"/>
<rect x="240.00" y="408.00" width="6.00" height="62.40" fill="#fdbf7f" />
<path d="M248.10 470.4 V433.30 H255.40 V470.4" fill="#fdbf7f" stroke="#1a1a1a" stroke-width="1.2"/>
<path d="M266.60 470.4 V469.40 H273.50 V470.4" fill="#fdbf7f" stroke="#1a1a1a" stroke-width="1.2"/>
<path d="M293.90 470.4 V419.50 H301.00 V470.4" fill="#5599ee" stroke="#1a1a1a" stroke-width="1.2"/>
<path d="M302.80 470.4 V461.80 H309.60 V470.4" fill="#5599ee" stroke="#1a1a1a" stroke-width="1.2"/>
<path d="M311.80 470.4 V465.60 H318.80 V470.4" fill="#5599ee" stroke="#1a1a1a" stroke-width="1.2"/>
<path d="M320.90 470.4 V468.40 H327.90 V470.4" fill="#5599ee" stroke="#1a1a1a" stroke-width="1.2"/>
<path d="M338.50 395.30 V368.50 H346.20 V395.30" fill="#c9ddf6" stroke="#1a1a1a" stroke-width="1.2"/>
<path d="M338.50 470.4 V408.00 M346.20 408.00 V470.4" fill="none" stroke="#1a1a1a" stroke-width="1.2"/>
<rect x="339.10" y="408.00" width="6.50" height="62.40" fill="#c9ddf6" />
<path d="M348.10 470.4 V465.20 H354.90 V470.4" fill="#c9ddf6" stroke="#1a1a1a" stroke-width="1.2"/>
<path d="M357.20 470.4 V456.20 H364.10 V470.4" fill="#c9ddf6" stroke="#1a1a1a" stroke-width="1.2"/>
<path d="M366.40 470.4 V458.80 H373.40 V470.4" fill="#c9ddf6" stroke="#1a1a1a" stroke-width="1.2"/>
<text x="198.7" y="471.8" font-size="6.6" fill="#333" text-anchor="end" transform="rotate(-90 198.7 471.8)" stroke="#333" stroke-width="0.08">pre</text>
<text x="209.3" y="471.8" font-size="6.6" fill="#333" text-anchor="end" transform="rotate(-90 209.3 471.8)" stroke="#333" stroke-width="0.08">4hr</text>
<text x="218.5" y="471.8" font-size="6.6" fill="#333" text-anchor="end" transform="rotate(-90 218.5 471.8)" stroke="#333" stroke-width="0.08">24hr</text>
<text x="228.9" y="471.8" font-size="6.6" fill="#333" text-anchor="end" transform="rotate(-90 228.9 471.8)" stroke="#333" stroke-width="0.08">48hr</text>
<text x="244.3" y="471.8" font-size="6.6" fill="#333" text-anchor="end" transform="rotate(-90 244.3 471.8)" stroke="#333" stroke-width="0.08">pre</text>
<text x="254.6" y="471.8" font-size="6.6" fill="#333" text-anchor="end" transform="rotate(-90 254.6 471.8)" stroke="#333" stroke-width="0.08">4hr</text>
<text x="263.6" y="471.8" font-size="6.6" fill="#333" text-anchor="end" transform="rotate(-90 263.6 471.8)" stroke="#333" stroke-width="0.08">24hr</text>
<text x="273.6" y="471.8" font-size="6.6" fill="#333" text-anchor="end" transform="rotate(-90 273.6 471.8)" stroke="#333" stroke-width="0.08">48hr</text>
<text x="298.8" y="471.8" font-size="6.6" fill="#333" text-anchor="end" transform="rotate(-90 298.8 471.8)" stroke="#333" stroke-width="0.08">pre</text>
<text x="309.1" y="471.8" font-size="6.6" fill="#333" text-anchor="end" transform="rotate(-90 309.1 471.8)" stroke="#333" stroke-width="0.08">4hr</text>
<text x="318.4" y="471.8" font-size="6.6" fill="#333" text-anchor="end" transform="rotate(-90 318.4 471.8)" stroke="#333" stroke-width="0.08">24hr</text>
<text x="327.8" y="471.8" font-size="6.6" fill="#333" text-anchor="end" transform="rotate(-90 327.8 471.8)" stroke="#333" stroke-width="0.08">48hr</text>
<text x="343.6" y="471.8" font-size="6.6" fill="#333" text-anchor="end" transform="rotate(-90 343.6 471.8)" stroke="#333" stroke-width="0.08">pre</text>
<text x="353.9" y="471.8" font-size="6.6" fill="#333" text-anchor="end" transform="rotate(-90 353.9 471.8)" stroke="#333" stroke-width="0.08">4hr</text>
<text x="363.0" y="471.8" font-size="6.6" fill="#333" text-anchor="end" transform="rotate(-90 363.0 471.8)" stroke="#333" stroke-width="0.08">24hr</text>
<text x="372.8" y="471.8" font-size="6.6" fill="#333" text-anchor="end" transform="rotate(-90 372.8 471.8)" stroke="#333" stroke-width="0.08">48hr</text>
</svg>
</body></html>
